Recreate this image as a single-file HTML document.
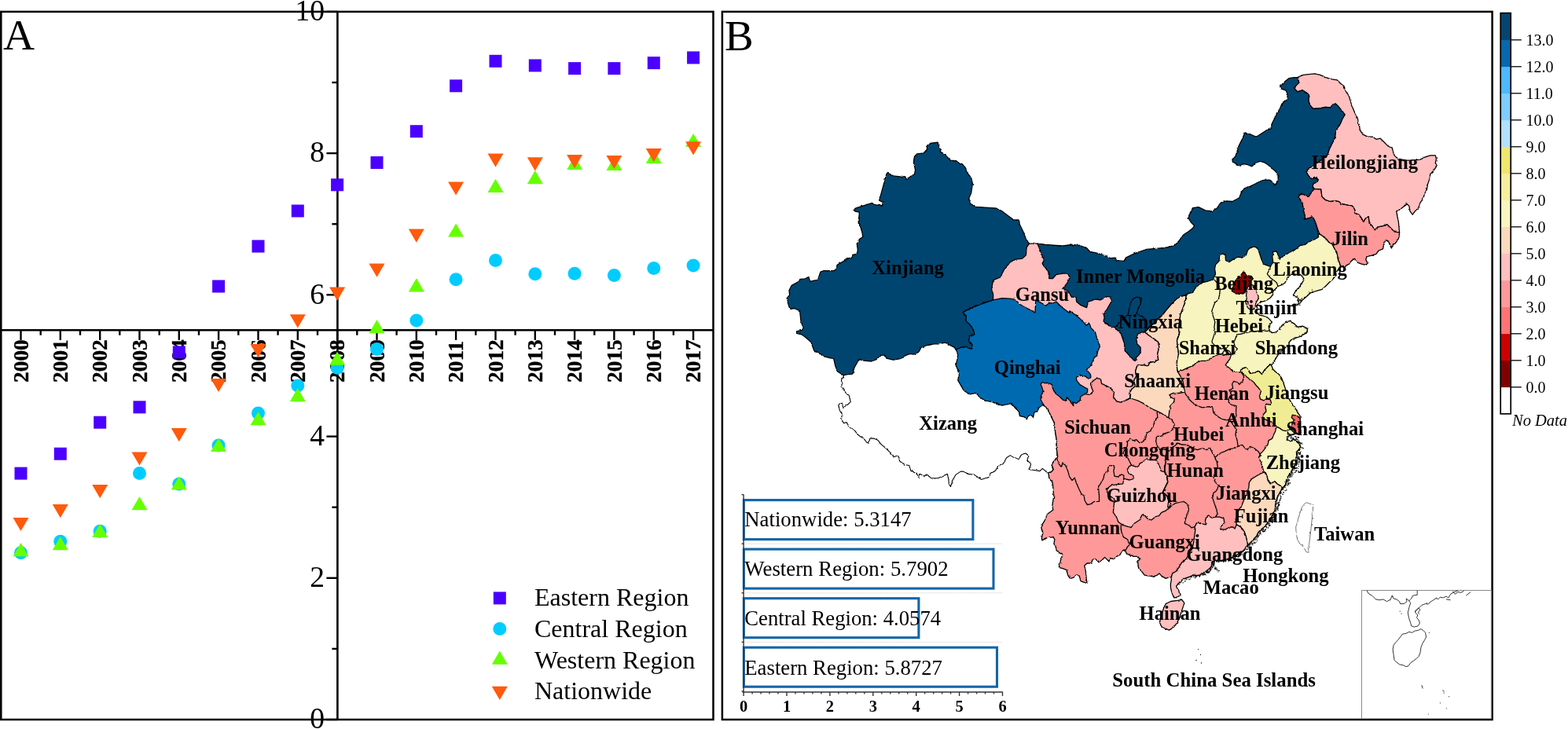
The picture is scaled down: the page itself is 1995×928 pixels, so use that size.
<!DOCTYPE html>
<html lang="en">
<head>
<meta charset="utf-8">
<title>Figure: regional trends and provincial map</title>
<style>
html,body{margin:0;padding:0;background:#fff;}
body{width:1995px;height:928px;overflow:hidden;}
svg{display:block;}
text{fill:#000;}
</style>
</head>
<body>
<svg width="1995" height="928" viewBox="0 0 1995 928">
<rect x="0" y="0" width="1995" height="928" fill="#fff"/>
<g id="panelA">
<rect x="1.3" y="14.9" width="906.2" height="901.1" fill="#fff" stroke="#000" stroke-width="2.5"/>
<line x1="429.4" y1="14.9" x2="429.4" y2="916" stroke="#000" stroke-width="2.6"/>
<line x1="1.3" y1="420.2" x2="907.5" y2="420.2" stroke="#000" stroke-width="2.6"/>
<line x1="415.4" y1="916.0" x2="429.4" y2="916.0" stroke="#000" stroke-width="2.4"/>
<line x1="422.4" y1="825.9" x2="429.4" y2="825.9" stroke="#000" stroke-width="2.4"/>
<line x1="415.4" y1="735.8" x2="429.4" y2="735.8" stroke="#000" stroke-width="2.4"/>
<line x1="422.4" y1="645.7" x2="429.4" y2="645.7" stroke="#000" stroke-width="2.4"/>
<line x1="415.4" y1="555.6" x2="429.4" y2="555.6" stroke="#000" stroke-width="2.4"/>
<line x1="422.4" y1="465.4" x2="429.4" y2="465.4" stroke="#000" stroke-width="2.4"/>
<line x1="415.4" y1="375.3" x2="429.4" y2="375.3" stroke="#000" stroke-width="2.4"/>
<line x1="422.4" y1="285.2" x2="429.4" y2="285.2" stroke="#000" stroke-width="2.4"/>
<line x1="415.4" y1="195.1" x2="429.4" y2="195.1" stroke="#000" stroke-width="2.4"/>
<line x1="422.4" y1="105.0" x2="429.4" y2="105.0" stroke="#000" stroke-width="2.4"/>
<line x1="415.4" y1="14.9" x2="429.4" y2="14.9" stroke="#000" stroke-width="2.4"/>
<text x="413" y="927.2" text-anchor="end" font-size="37.5" font-family='"Liberation Serif", "Times New Roman", serif'>0</text>
<text x="413" y="747.0" text-anchor="end" font-size="37.5" font-family='"Liberation Serif", "Times New Roman", serif'>2</text>
<text x="413" y="566.8" text-anchor="end" font-size="37.5" font-family='"Liberation Serif", "Times New Roman", serif'>4</text>
<text x="413" y="386.5" text-anchor="end" font-size="37.5" font-family='"Liberation Serif", "Times New Roman", serif'>6</text>
<text x="413" y="206.3" text-anchor="end" font-size="37.5" font-family='"Liberation Serif", "Times New Roman", serif'>8</text>
<text x="413" y="26.1" text-anchor="end" font-size="37.5" font-family='"Liberation Serif", "Times New Roman", serif'>10</text>
<line x1="26.5" y1="420.2" x2="26.5" y2="432.9" stroke="#000" stroke-width="2.4"/>
<line x1="51.7" y1="420.2" x2="51.7" y2="426.7" stroke="#000" stroke-width="2.4"/>
<text transform="translate(35.7,487) rotate(-90)" font-size="27.4" font-weight="bold" stroke="#000" stroke-width="0.35" font-family='"Liberation Serif", "Times New Roman", serif'>2000</text>
<line x1="76.8" y1="420.2" x2="76.8" y2="432.9" stroke="#000" stroke-width="2.4"/>
<line x1="102.0" y1="420.2" x2="102.0" y2="426.7" stroke="#000" stroke-width="2.4"/>
<text transform="translate(86.0,487) rotate(-90)" font-size="27.4" font-weight="bold" stroke="#000" stroke-width="0.35" font-family='"Liberation Serif", "Times New Roman", serif'>2001</text>
<line x1="127.2" y1="420.2" x2="127.2" y2="432.9" stroke="#000" stroke-width="2.4"/>
<line x1="152.3" y1="420.2" x2="152.3" y2="426.7" stroke="#000" stroke-width="2.4"/>
<text transform="translate(136.4,487) rotate(-90)" font-size="27.4" font-weight="bold" stroke="#000" stroke-width="0.35" font-family='"Liberation Serif", "Times New Roman", serif'>2002</text>
<line x1="177.5" y1="420.2" x2="177.5" y2="432.9" stroke="#000" stroke-width="2.4"/>
<line x1="202.7" y1="420.2" x2="202.7" y2="426.7" stroke="#000" stroke-width="2.4"/>
<text transform="translate(186.7,487) rotate(-90)" font-size="27.4" font-weight="bold" stroke="#000" stroke-width="0.35" font-family='"Liberation Serif", "Times New Roman", serif'>2003</text>
<line x1="227.8" y1="420.2" x2="227.8" y2="432.9" stroke="#000" stroke-width="2.4"/>
<line x1="253.0" y1="420.2" x2="253.0" y2="426.7" stroke="#000" stroke-width="2.4"/>
<text transform="translate(237.0,487) rotate(-90)" font-size="27.4" font-weight="bold" stroke="#000" stroke-width="0.35" font-family='"Liberation Serif", "Times New Roman", serif'>2004</text>
<line x1="278.1" y1="420.2" x2="278.1" y2="432.9" stroke="#000" stroke-width="2.4"/>
<line x1="303.3" y1="420.2" x2="303.3" y2="426.7" stroke="#000" stroke-width="2.4"/>
<text transform="translate(287.3,487) rotate(-90)" font-size="27.4" font-weight="bold" stroke="#000" stroke-width="0.35" font-family='"Liberation Serif", "Times New Roman", serif'>2005</text>
<line x1="328.5" y1="420.2" x2="328.5" y2="432.9" stroke="#000" stroke-width="2.4"/>
<line x1="353.6" y1="420.2" x2="353.6" y2="426.7" stroke="#000" stroke-width="2.4"/>
<text transform="translate(337.7,487) rotate(-90)" font-size="27.4" font-weight="bold" stroke="#000" stroke-width="0.35" font-family='"Liberation Serif", "Times New Roman", serif'>2006</text>
<line x1="378.8" y1="420.2" x2="378.8" y2="432.9" stroke="#000" stroke-width="2.4"/>
<line x1="404.0" y1="420.2" x2="404.0" y2="426.7" stroke="#000" stroke-width="2.4"/>
<text transform="translate(388.0,487) rotate(-90)" font-size="27.4" font-weight="bold" stroke="#000" stroke-width="0.35" font-family='"Liberation Serif", "Times New Roman", serif'>2007</text>
<line x1="429.1" y1="420.2" x2="429.1" y2="432.9" stroke="#000" stroke-width="2.4"/>
<line x1="454.3" y1="420.2" x2="454.3" y2="426.7" stroke="#000" stroke-width="2.4"/>
<text transform="translate(438.3,487) rotate(-90)" font-size="27.4" font-weight="bold" stroke="#000" stroke-width="0.35" font-family='"Liberation Serif", "Times New Roman", serif'>2008</text>
<line x1="479.5" y1="420.2" x2="479.5" y2="432.9" stroke="#000" stroke-width="2.4"/>
<line x1="504.6" y1="420.2" x2="504.6" y2="426.7" stroke="#000" stroke-width="2.4"/>
<text transform="translate(488.7,487) rotate(-90)" font-size="27.4" font-weight="bold" stroke="#000" stroke-width="0.35" font-family='"Liberation Serif", "Times New Roman", serif'>2009</text>
<line x1="529.8" y1="420.2" x2="529.8" y2="432.9" stroke="#000" stroke-width="2.4"/>
<line x1="555.0" y1="420.2" x2="555.0" y2="426.7" stroke="#000" stroke-width="2.4"/>
<text transform="translate(539.0,487) rotate(-90)" font-size="27.4" font-weight="bold" stroke="#000" stroke-width="0.35" font-family='"Liberation Serif", "Times New Roman", serif'>2010</text>
<line x1="580.1" y1="420.2" x2="580.1" y2="432.9" stroke="#000" stroke-width="2.4"/>
<line x1="605.3" y1="420.2" x2="605.3" y2="426.7" stroke="#000" stroke-width="2.4"/>
<text transform="translate(589.3,487) rotate(-90)" font-size="27.4" font-weight="bold" stroke="#000" stroke-width="0.35" font-family='"Liberation Serif", "Times New Roman", serif'>2011</text>
<line x1="630.5" y1="420.2" x2="630.5" y2="432.9" stroke="#000" stroke-width="2.4"/>
<line x1="655.6" y1="420.2" x2="655.6" y2="426.7" stroke="#000" stroke-width="2.4"/>
<text transform="translate(639.7,487) rotate(-90)" font-size="27.4" font-weight="bold" stroke="#000" stroke-width="0.35" font-family='"Liberation Serif", "Times New Roman", serif'>2012</text>
<line x1="680.8" y1="420.2" x2="680.8" y2="432.9" stroke="#000" stroke-width="2.4"/>
<line x1="706.0" y1="420.2" x2="706.0" y2="426.7" stroke="#000" stroke-width="2.4"/>
<text transform="translate(690.0,487) rotate(-90)" font-size="27.4" font-weight="bold" stroke="#000" stroke-width="0.35" font-family='"Liberation Serif", "Times New Roman", serif'>2013</text>
<line x1="731.1" y1="420.2" x2="731.1" y2="432.9" stroke="#000" stroke-width="2.4"/>
<line x1="756.3" y1="420.2" x2="756.3" y2="426.7" stroke="#000" stroke-width="2.4"/>
<text transform="translate(740.3,487) rotate(-90)" font-size="27.4" font-weight="bold" stroke="#000" stroke-width="0.35" font-family='"Liberation Serif", "Times New Roman", serif'>2014</text>
<line x1="781.4" y1="420.2" x2="781.4" y2="432.9" stroke="#000" stroke-width="2.4"/>
<line x1="806.6" y1="420.2" x2="806.6" y2="426.7" stroke="#000" stroke-width="2.4"/>
<text transform="translate(790.6,487) rotate(-90)" font-size="27.4" font-weight="bold" stroke="#000" stroke-width="0.35" font-family='"Liberation Serif", "Times New Roman", serif'>2015</text>
<line x1="831.8" y1="420.2" x2="831.8" y2="432.9" stroke="#000" stroke-width="2.4"/>
<line x1="856.9" y1="420.2" x2="856.9" y2="426.7" stroke="#000" stroke-width="2.4"/>
<text transform="translate(841.0,487) rotate(-90)" font-size="27.4" font-weight="bold" stroke="#000" stroke-width="0.35" font-family='"Liberation Serif", "Times New Roman", serif'>2016</text>
<line x1="882.1" y1="420.2" x2="882.1" y2="432.9" stroke="#000" stroke-width="2.4"/>
<text transform="translate(891.3,487) rotate(-90)" font-size="27.4" font-weight="bold" stroke="#000" stroke-width="0.35" font-family='"Liberation Serif", "Times New Roman", serif'>2017</text>
<rect x="18.5" y="594.6" width="16" height="16" fill="#4B00FF"/>
<rect x="68.8" y="569.7" width="16" height="16" fill="#4B00FF"/>
<rect x="119.2" y="529.7" width="16" height="16" fill="#4B00FF"/>
<rect x="169.5" y="510.3" width="16" height="16" fill="#4B00FF"/>
<rect x="219.8" y="440.4" width="16" height="16" fill="#4B00FF"/>
<rect x="270.1" y="356.5" width="16" height="16" fill="#4B00FF"/>
<rect x="320.5" y="305.5" width="16" height="16" fill="#4B00FF"/>
<rect x="370.8" y="260.5" width="16" height="16" fill="#4B00FF"/>
<rect x="421.1" y="227.3" width="16" height="16" fill="#4B00FF"/>
<rect x="471.5" y="199.0" width="16" height="16" fill="#4B00FF"/>
<rect x="521.8" y="159.2" width="16" height="16" fill="#4B00FF"/>
<rect x="572.1" y="101.3" width="16" height="16" fill="#4B00FF"/>
<rect x="622.5" y="69.8" width="16" height="16" fill="#4B00FF"/>
<rect x="672.8" y="75.4" width="16" height="16" fill="#4B00FF"/>
<rect x="723.1" y="79.1" width="16" height="16" fill="#4B00FF"/>
<rect x="773.4" y="79.1" width="16" height="16" fill="#4B00FF"/>
<rect x="823.8" y="72.1" width="16" height="16" fill="#4B00FF"/>
<rect x="874.1" y="65.4" width="16" height="16" fill="#4B00FF"/>
<circle cx="26.5" cy="703.8" r="8.5" fill="#00CCFF"/>
<circle cx="76.8" cy="689.2" r="8.5" fill="#00CCFF"/>
<circle cx="127.2" cy="676.3" r="8.5" fill="#00CCFF"/>
<circle cx="177.5" cy="602.6" r="8.5" fill="#00CCFF"/>
<circle cx="227.8" cy="616.2" r="8.5" fill="#00CCFF"/>
<circle cx="278.1" cy="567.1" r="8.5" fill="#00CCFF"/>
<circle cx="328.5" cy="526.0" r="8.5" fill="#00CCFF"/>
<circle cx="378.8" cy="491.1" r="8.5" fill="#00CCFF"/>
<circle cx="429.1" cy="468.3" r="8.5" fill="#00CCFF"/>
<circle cx="479.5" cy="444.6" r="8.5" fill="#00CCFF"/>
<circle cx="529.8" cy="408.1" r="8.5" fill="#00CCFF"/>
<circle cx="580.1" cy="355.7" r="8.5" fill="#00CCFF"/>
<circle cx="630.5" cy="331.6" r="8.5" fill="#00CCFF"/>
<circle cx="680.8" cy="348.8" r="8.5" fill="#00CCFF"/>
<circle cx="731.1" cy="348.3" r="8.5" fill="#00CCFF"/>
<circle cx="781.4" cy="350.6" r="8.5" fill="#00CCFF"/>
<circle cx="831.8" cy="341.4" r="8.5" fill="#00CCFF"/>
<circle cx="882.1" cy="338.1" r="8.5" fill="#00CCFF"/>
<polygon points="16.5,708.2 36.5,708.2 26.5,691.0" fill="#66FF00"/>
<polygon points="66.8,700.3 86.8,700.3 76.8,683.1" fill="#66FF00"/>
<polygon points="117.2,684.0 137.2,684.0 127.2,666.8" fill="#66FF00"/>
<polygon points="167.5,649.2 187.5,649.2 177.5,632.0" fill="#66FF00"/>
<polygon points="217.8,623.5 237.8,623.5 227.8,606.3" fill="#66FF00"/>
<polygon points="268.1,575.0 288.1,575.0 278.1,557.8" fill="#66FF00"/>
<polygon points="318.5,541.2 338.5,541.2 328.5,524.0" fill="#66FF00"/>
<polygon points="368.8,511.2 388.8,511.2 378.8,494.0" fill="#66FF00"/>
<polygon points="419.1,464.8 439.1,464.8 429.1,447.6" fill="#66FF00"/>
<polygon points="469.5,424.3 489.5,424.3 479.5,407.1" fill="#66FF00"/>
<polygon points="519.8,371.4 539.8,371.4 529.8,354.2" fill="#66FF00"/>
<polygon points="570.1,301.6 590.1,301.6 580.1,284.4" fill="#66FF00"/>
<polygon points="620.5,244.9 640.5,244.9 630.5,227.7" fill="#66FF00"/>
<polygon points="670.8,234.3 690.8,234.3 680.8,217.1" fill="#66FF00"/>
<polygon points="721.1,215.9 741.1,215.9 731.1,198.7" fill="#66FF00"/>
<polygon points="771.4,217.1 791.4,217.1 781.4,199.9" fill="#66FF00"/>
<polygon points="821.8,208.0 841.8,208.0 831.8,190.8" fill="#66FF00"/>
<polygon points="872.1,187.1 892.1,187.1 882.1,169.9" fill="#66FF00"/>
<polygon points="16.5,658.9 36.5,658.9 26.5,676.1" fill="#FF5A0D"/>
<polygon points="66.8,642.1 86.8,642.1 76.8,659.3" fill="#FF5A0D"/>
<polygon points="117.2,617.1 137.2,617.1 127.2,634.3" fill="#FF5A0D"/>
<polygon points="167.5,575.4 187.5,575.4 177.5,592.6" fill="#FF5A0D"/>
<polygon points="217.8,545.1 237.8,545.1 227.8,562.3" fill="#FF5A0D"/>
<polygon points="268.1,481.9 288.1,481.9 278.1,499.1" fill="#FF5A0D"/>
<polygon points="318.5,438.0 338.5,438.0 328.5,455.2" fill="#FF5A0D"/>
<polygon points="368.8,400.3 388.8,400.3 378.8,417.5" fill="#FF5A0D"/>
<polygon points="419.1,365.6 439.1,365.6 429.1,382.8" fill="#FF5A0D"/>
<polygon points="469.5,335.5 489.5,335.5 479.5,352.7" fill="#FF5A0D"/>
<polygon points="519.8,291.6 539.8,291.6 529.8,308.8" fill="#FF5A0D"/>
<polygon points="570.1,231.4 590.1,231.4 580.1,248.6" fill="#FF5A0D"/>
<polygon points="620.5,195.6 640.5,195.6 630.5,212.8" fill="#FF5A0D"/>
<polygon points="670.8,200.2 690.8,200.2 680.8,217.4" fill="#FF5A0D"/>
<polygon points="721.1,197.0 741.1,197.0 731.1,214.2" fill="#FF5A0D"/>
<polygon points="771.4,197.9 791.4,197.9 781.4,215.1" fill="#FF5A0D"/>
<polygon points="821.8,189.1 841.8,189.1 831.8,206.3" fill="#FF5A0D"/>
<polygon points="872.1,180.3 892.1,180.3 882.1,197.5" fill="#FF5A0D"/>
<rect x="627.8" y="753.4" width="16" height="16" fill="#4B00FF"/>
<text x="680" y="771.2" font-size="32" font-family='"Liberation Serif", "Times New Roman", serif'>Eastern Region</text>
<circle cx="635.8" cy="800.4" r="8.5" fill="#00CCFF"/>
<text x="680" y="811.0" font-size="32" font-family='"Liberation Serif", "Times New Roman", serif'>Central Region</text>
<polygon points="625.8,845.8 645.8,845.8 635.8,828.6" fill="#66FF00"/>
<text x="680" y="850.5" font-size="32" font-family='"Liberation Serif", "Times New Roman", serif'>Western Region</text>
<polygon points="625.8,873.8 645.8,873.8 635.8,891.0" fill="#FF5A0D"/>
<text x="680" y="890.0" font-size="32" font-family='"Liberation Serif", "Times New Roman", serif'>Nationwide</text>
<text x="4" y="63" font-size="55.5" font-family='"Liberation Serif", "Times New Roman", serif'>A</text>
</g>
<g id="panelB">
<rect x="918.9" y="14.9" width="979.7" height="901.1" fill="#fff" stroke="#000" stroke-width="2.5"/>
<text x="922" y="64.2" font-size="55" font-family='"Liberation Serif", "Times New Roman", serif'>B</text>
<defs><filter id="jag" x="-2%" y="-2%" width="104%" height="104%"><feTurbulence type="fractalNoise" baseFrequency="0.22" numOctaves="2" seed="7" result="n"/><feDisplacementMap in="SourceGraphic" in2="n" scale="2.6" xChannelSelector="R" yChannelSelector="G"/></filter></defs>
<g filter="url(#jag)"><polygon points="1073.7,478.3 1070.5,483.7 1071.1,492.3 1075.9,499.9 1080.2,503.1 1082.3,511.7 1076.9,516.5 1072.6,518.2 1071.1,512.8 1066.8,515.0 1068.3,522.5 1071.1,526.8 1070.5,534.4 1073.7,538.7 1076.9,537.6 1081.2,544.1 1087.7,548.4 1092.0,553.8 1099.6,559.1 1103.9,564.5 1107.1,558.1 1111.4,558.1 1116.8,560.2 1121.1,565.6 1127.6,571.0 1133.0,576.4 1137.3,581.8 1142.7,579.6 1144.8,587.2 1151.3,591.5 1156.7,592.5 1158.8,599.0 1166.4,603.3 1169.6,607.6 1170.7,603.3 1175.0,606.1 1179.3,604.0 1184.7,608.7 1193.3,608.7 1200.9,605.5 1205.2,603.3 1206.9,609.8 1207.3,616.2 1209.5,619.5 1211.6,611.9 1215.9,604.4 1222.4,600.1 1228.9,600.5 1231.0,603.3 1239.7,604.4 1248.3,610.4 1253.7,608.7 1258.0,607.6 1260.1,603.3 1266.6,599.0 1269.8,593.6 1276.3,590.4 1280.6,582.8 1285.4,579.6 1289.7,582.4 1296.2,584.5 1299.4,579.1 1304.8,577.0 1309.1,580.2 1306.9,585.6 1311.9,591.0 1309.1,597.5 1315.6,598.5 1323.1,599.6 1326.3,596.4 1331.7,600.7 1333.9,602.4 1337.8,600.7 1340.3,597.5 1338.2,592.1 1340.3,587.8 1344.7,583.4 1345.7,581.3 1344.2,570.5 1344.2,559.7 1342.5,549.0 1341.4,538.2 1337.1,529.6 1332.8,519.9 1327.0,515.6 1300,480 1230,420 1150,430 1090,460 1073.0,477.6" fill="#FFFFFF" stroke="#000" stroke-width="1.1" stroke-linejoin="round"/>
<polygon points="1327.0,515.6 1318,500 1322,480 1345,470 1400,475 1450,470 1510,440 1560,430 1600,450 1620,500 1630,545 1632,580 1615,640 1592,680 1560,700 1505,725 1490.7,733.1 1488.6,734.2 1483.2,736.4 1477.8,733.1 1475.0,729.9 1472.4,732.1 1467.0,734.2 1461.6,733.1 1456.2,732.1 1453.0,727.8 1448.7,723.4 1447.6,715.9 1449.8,711.6 1447.6,708.4 1442.2,708.4 1437.9,706.2 1433.6,705.1 1431.5,700.8 1430.4,699.7 1427.2,701.9 1425.0,706.2 1420.7,708.4 1417.5,711.6 1412.1,710.5 1411.0,714.8 1407.8,711.6 1405.6,709.4 1402.4,712.7 1398.1,715.9 1393.8,711.6 1390.5,711.6 1388.4,717.0 1383.0,717.0 1379.7,720.2 1381.5,727.8 1382.3,737.5 1383.0,742.4 1378.7,741.1 1375.0,739.6 1373.3,733.1 1369.0,732.1 1365.7,735.3 1361.4,736.4 1358.6,732.1 1357.1,725.6 1352.8,723.9 1347.4,722.4 1348.5,718.1 1349.6,712.7 1351.7,706.2 1348.5,704.1 1344.2,700.8 1343.1,695.4 1340.9,692.2 1342.0,686.8 1339.9,683.6 1332.3,684.7 1325.9,687.9 1325.4,684.7 1326.9,678.2 1324.8,671.7 1326.9,666.3 1330.2,660.9 1332.3,654.5 1335.6,652.3 1339.9,649.1 1338.8,643.7 1340.9,630.8 1340.3,626.6 1339.3,614.7 1335.0,609.3 1333.9,602.4 1337.8,600.7 1340.3,597.5 1338.2,592.1 1340.3,587.8 1344.7,583.4 1345.7,581.3 1344.2,570.5 1344.2,559.7 1342.5,549.0 1341.4,538.2 1337.1,529.6 1332.8,519.9 1327.0,515.6" fill="#FF9999" stroke="#000" stroke-width="1.3" stroke-linejoin="round"/>
<polygon points="1380.4,501.6 1386.5,502.4 1390.8,498.1 1388.6,492.7 1388.6,487.3 1391.9,484.1 1396.2,480.9 1400.5,483.0 1401.6,488.4 1406.9,490.6 1412.3,493.8 1417.7,498.1 1416.6,505.6 1420.9,511.0 1426.3,512.1 1431.7,510.0 1433.9,508.9 1438.2,506.7 1437.1,500.3 1440.3,494.9 1444.7,491.6 1442.5,485.2 1445.7,478.7 1444.7,472.2 1446.8,465.8 1453.3,464.7 1460.8,465.8 1463.0,461.5 1468.4,460.4 1473.8,458.2 1472.7,450.7 1474.8,442.1 1473.8,435.6 1468.4,431.3 1461.9,427.0 1456.5,422.7 1440,400 1420,370 1380,350 1340,330 1320.1,310.2 1309.3,310.2 1290,330 1255,355 1252,390 1290,410 1340,440 1365,490" fill="#FFBFBF" stroke="#000" stroke-width="1.3" stroke-linejoin="round"/>
<polygon points="1433.9,508.9 1438.2,506.7 1437.1,500.3 1440.3,494.9 1444.7,491.6 1442.5,485.2 1445.7,478.7 1444.7,472.2 1446.8,465.8 1453.3,464.7 1460.8,465.8 1463.0,461.5 1468.4,460.4 1473.8,458.2 1472.7,450.7 1474.8,442.1 1473.8,435.6 1468.4,431.3 1461.9,427.0 1456.5,422.7 1456.5,422.7 1461.9,417.3 1470.5,408.7 1479.1,401.1 1481.3,397.9 1485.6,392.5 1492.1,385.0 1497.5,380.0 1502.8,377.0 1509.3,375.7 1509.3,376.3 1508.2,383.9 1505.0,392.5 1501.8,401.1 1500.7,409.7 1499.6,418.4 1500.7,424.8 1497.5,433.4 1498.5,442.1 1499.6,450.7 1497.5,459.3 1497.5,467.9 1498.5,473.3 1501.8,478.7 1505.0,485.2 1506.1,491.6 1507.2,498.1 1506.2,499.4 1499.7,500.5 1492.2,500.5 1487.9,502.6 1490.0,505.9 1494.4,508.0 1493.3,512.3 1489.0,516.6 1487.9,523.1 1486.8,531.7 1483.6,530.6 1478.2,526.3 1471.7,523.1 1466.3,520.9 1460.9,517.7 1454.5,513.4 1448.0,510.2 1441.6,508.0 1438.3,506.9 1432.9,509.1" fill="#FCD9BD" stroke="#000" stroke-width="1.3" stroke-linejoin="round"/>
<polygon points="1509.3,376.3 1508.2,383.9 1505.0,392.5 1501.8,401.1 1500.7,409.7 1499.6,418.4 1500.7,424.8 1497.5,433.4 1498.5,442.1 1499.6,450.7 1497.5,459.3 1497.5,467.9 1498.5,473.3 1505.0,471.2 1511.5,467.9 1517.9,465.8 1522.2,461.5 1528.7,459.3 1535.2,459.3 1540.6,456.1 1545.9,452.8 1552.4,450.7 1561.0,451.8 1567.5,450.7 1566.8,450.6 1564.7,457.1 1561.4,461.4 1559.3,464.7 1563.6,467.9 1569.0,473.3 1574.4,474.4 1578.7,473.3 1580.8,469.0 1585.1,467.9 1588.4,471.1 1590.5,475.4 1597.0,474.4 1601.3,472.2 1605.6,476.5 1608.8,471.1 1612.1,467.9 1615.3,464.7 1617.5,464.7 1619.6,462.5 1622.8,457.1 1626.1,451.7 1629.3,448.5 1634.7,443.1 1640.1,438.8 1640.1,435.6 1643.3,432.3 1648.7,430.2 1656.2,428.0 1658.4,425.9 1662.7,423.7 1663.8,418.3 1657.3,415.1 1650.9,416.2 1646.6,411.9 1640.1,408.6 1635.8,409.7 1631.5,414.0 1628.2,418.3 1623.9,422.6 1618.5,423.7 1615.3,420.5 1614.7,418.4 1614.2,415.1 1616.3,412.4 1618.5,410.3 1616.3,407.6 1613.1,404.4 1607.7,402.2 1602.3,401.1 1599.6,397.9 1598.6,394.7 1599.1,390.3 1601.2,386.6 1604.5,384.4 1606.6,383.9 1609.9,382.8 1613.1,381.2 1616.3,379.0 1618.5,376.3 1619.0,373.1 1620.6,369.9 1622.8,367.7 1626.0,364.5 1631.4,362.3 1634.7,360.2 1636.8,356.4 1639.0,353.2 1641.7,350.5 1645.4,348.9 1649.7,349.4 1655.1,349.9 1657.3,352.6 1659.4,355.3 1657.3,359.1 1655.1,362.3 1653.0,365.6 1650.3,368.3 1648.1,370.9 1647.0,373.1 1645.4,375.3 1646.5,377.4 1649.7,378.0 1651.9,379.6 1650.8,382.8 1652.4,385.5 1649.7,388.2 1645.4,388.7 1654.1,386.0 1656.2,382.8 1659.4,380.1 1663.8,376.3 1667.0,373.1 1671.3,371.5 1676.7,369.9 1682.1,368.3 1686.4,364.5 1689.6,361.2 1692.8,358.0 1695.0,356.4 1699.1,351.3 1701.3,344.8 1705.6,338.8 1704.5,335.1 1702.4,329.7 1701.3,323.3 1698.1,316.8 1694.8,310.3 1690.5,308.2 1688.4,305.0 1683.0,300.6 1678.7,297.4 1640,300 1600,305 1550,315 1540,335" fill="#F7F4BF" stroke="#000" stroke-width="1.3" stroke-linejoin="round"/>
<polygon points="1780.6,295.7 1780.0,301.7 1777.8,307.1 1772.4,311.4 1771.3,315.7 1769.2,311.4 1765.9,307.1 1762.7,306.0 1760.6,311.4 1759.5,316.8 1754.1,319.0 1750.9,323.3 1744.4,325.4 1739.0,326.5 1737.9,330.8 1740.1,335.1 1737.9,337.3 1732.5,336.2 1727.2,334.1 1722.8,329.7 1719.6,331.9 1716.4,336.2 1712.1,338.4 1705.6,338.8 1704.5,335.1 1702.4,329.7 1701.3,323.3 1698.1,316.8 1694.8,310.3 1690.5,308.2 1688.4,305.0 1683.0,300.6 1678.7,297.4 1675.4,288.8 1673.3,282.3 1670.0,275.9 1664.7,278.0 1659.3,279.1 1660.3,274.8 1658.2,267.2 1657.1,258.6 1655.6,255.9 1651.7,250.6 1656.0,246.2 1660.3,248.4 1664.7,250.6 1669.0,244.1 1672.2,240.4 1672.2,240.4 1680.8,240.9 1681.9,250.0 1686.2,254.3 1692.7,256.5 1698.1,255.4 1703.4,256.5 1707.8,259.7 1714.2,260.8 1720.7,261.9 1723.9,267.2 1725.0,271.6 1729.3,273.7 1732.5,278.0 1734.7,282.3 1737.9,276.9 1741.2,275.9 1742.2,282.3 1745.5,287.7 1748.7,293.1 1753.0,288.8 1759.5,287.7 1764.9,285.6 1769.2,289.9 1772.4,293.1 1776.7,295.3" fill="#FF9999" stroke="#000" stroke-width="1.3" stroke-linejoin="round"/>
<polygon points="1650.6,98.6 1658.2,95.4 1666.8,94.3 1673.3,93.9 1679.7,95.4 1686.2,98.6 1694.8,100.8 1701.3,101.9 1705.6,106.2 1709.9,109.4 1712.1,115.9 1716.4,122.3 1718.5,129.9 1720.7,136.3 1723.9,143.9 1727.2,150.3 1729.3,159.0 1730.4,165.4 1733.6,170.8 1740.1,174.1 1746.6,174.1 1750.9,177.3 1756.2,176.2 1760.6,180.5 1765.9,185.9 1771.3,188.1 1772.4,193.4 1774.6,198.8 1778.9,202.1 1789.7,204.2 1798.3,204.2 1806.9,203.1 1813.4,199.9 1819.8,197.8 1826.3,197.8 1827.4,202.1 1826.3,207.5 1828.4,210.7 1824.1,217.2 1819.8,221.5 1818.8,227.9 1816.6,234.4 1815.5,240.9 1812.3,247.3 1810.1,253.8 1806.9,258.1 1804.7,264.6 1800.4,268.9 1797.2,273.2 1794.0,268.9 1792.9,262.4 1789.7,259.2 1785.3,263.5 1781.0,266.7 1776.7,268.9 1777.8,275.3 1779.3,281.8 1780.0,290.0 1780.6,295.7 1776.7,295.3 1772.4,293.1 1769.2,289.9 1764.9,285.6 1759.5,287.7 1753.0,288.8 1748.7,293.1 1745.5,287.7 1742.2,282.3 1741.2,275.9 1737.9,276.9 1734.7,282.3 1732.5,278.0 1729.3,273.7 1725.0,271.6 1723.9,267.2 1720.7,261.9 1714.2,260.8 1707.8,259.7 1703.4,256.5 1698.1,255.4 1692.7,256.5 1686.2,254.3 1681.9,250.0 1680.8,240.9 1672.2,240.4 1670.0,237.6 1671.1,233.3 1675.4,232.2 1677.2,229.0 1674.4,225.8 1669.0,227.9 1664.7,223.6 1662.1,219.3 1663.6,216.1 1669.0,211.8 1675.4,207.5 1681.9,203.1 1687.3,199.9 1689.4,195.6 1691.6,189.1 1694.8,182.7 1698.1,176.2 1699.1,169.7 1701.3,163.3 1705.6,156.8 1707.8,151.4 1711.0,146.0 1707.8,141.7 1703.4,136.3 1699.1,132.0 1695.9,133.1 1692.7,137.0 1686.2,136.3 1679.7,137.8 1671.1,138.5 1666.8,134.2 1664.7,127.7 1665.7,122.3 1663.6,119.1 1657.1,114.8 1650.6,116.9 1646.3,111.6 1652.8,105.1 1650.6,98.6" fill="#FFBFBF" stroke="#000" stroke-width="1.3" stroke-linejoin="round"/>
<polygon points="1617.5,464.7 1615.3,464.7 1612.1,467.9 1608.8,471.1 1605.6,476.5 1601.3,472.2 1597.0,474.4 1590.5,475.4 1588.4,471.1 1585.1,467.9 1580.8,469.0 1578.7,473.3 1583.0,476.5 1586.2,479.7 1590.5,483.0 1594.8,486.2 1598.1,490.5 1601.3,493.8 1604.5,498.1 1602.4,503.4 1603.4,507.8 1607.8,509.9 1612.1,507.8 1616.4,508.8 1617.5,513.1 1615.3,515.3 1611.0,514.2 1609.9,518.5 1611.0,523.9 1607.8,527.2 1606.7,531.5 1611.0,534.7 1617.5,536.9 1620.7,540.1 1623.9,543.3 1623.9,543.3 1627.2,544.4 1631.5,547.6 1635.8,548.7 1637.9,547.6 1642.2,546.6 1646.6,550.9 1650.9,552.6 1655.2,550.9 1653.0,546.6 1650.9,540.1 1654.1,536.9 1654.1,529.3 1650.9,525.0 1647.6,518.5 1643.3,513.1 1640.1,507.8 1637.9,501.3 1634.7,492.7 1632.5,486.2 1630.4,480.8 1627.2,476.5 1622.8,473.3 1619.6,470.0 1617.5,464.7" fill="#F0EC94" stroke="#000" stroke-width="1.3" stroke-linejoin="round"/>
<polygon points="1646.6,550.9 1642.2,546.6 1637.9,547.6 1635.8,548.7 1631.5,547.6 1627.2,544.4 1623.9,543.3 1623.9,543.3 1622.8,548.7 1620.7,553.0 1618.5,558.4 1614.2,560.6 1613.1,565.9 1609.9,570.3 1606.7,574.6 1603.4,577.8 1602.4,583.2 1604.5,589.7 1606.7,595.0 1605.6,592.3 1607.8,599.9 1608.8,600.9 1608.8,600.9 1612.1,606.3 1613.1,611.7 1616.4,616.0 1621.8,612.8 1625.0,616.0 1629.3,618.6 1631.5,621.0 1630.9,621.9 1635.3,617.6 1636.3,613.3 1638.5,606.8 1641.7,602.5 1643.9,598.2 1647.1,592.8 1649.3,588.5 1649.8,586.3 1648.7,583.1 1650.3,579.9 1648.7,576.6 1650.3,574.5 1653.6,571.2 1654.7,568.0 1652.5,564.8 1649.3,561.6 1646.0,559.4 1640.6,561.0 1637.4,559.4 1637.4,556.2 1641.7,554.0 1650.3,551.9 1650.9,552.6" fill="#F7F4BF" stroke="#000" stroke-width="1.3" stroke-linejoin="round"/>
<polygon points="1631.5,621.0 1629.3,618.6 1625.0,616.0 1621.8,612.8 1616.4,616.0 1613.1,611.7 1612.1,606.3 1608.8,600.9 1608.8,600.9 1603.4,603.1 1598.1,606.3 1592.7,609.6 1589.4,613.9 1588.8,621.4 1586.2,629.0 1583.0,635.4 1579.7,644.1 1576.5,648.4 1574.4,654.8 1572.2,661.3 1573.3,667.8 1573.3,667.8 1578.7,671.0 1583.0,676.4 1585.1,682.8 1586.9,689.3 1587.5,694.1 1587.4,694.4 1589.6,692.2 1592.8,689.0 1596.0,685.7 1599.3,681.4 1601.4,677.1 1604.7,673.9 1609.0,670.6 1612.2,666.3 1615.4,662.0 1618.7,656.6 1621.9,651.2 1622.4,646.9 1623.0,641.6 1624.1,636.2 1626.2,630.8 1629.4,625.4 1630.9,621.9" fill="#FCD9BD" stroke="#000" stroke-width="1.3" stroke-linejoin="round"/>
<polygon points="1587.5,694.1 1586.9,689.3 1585.1,682.8 1583.0,676.4 1578.7,671.0 1573.3,667.8 1573.3,667.8 1571.1,673.1 1569.0,671.0 1564.7,671.0 1558.2,674.2 1551.7,673.1 1553.9,669.9 1557.8,665.6 1557.1,660.2 1551.7,658.1 1546.3,658.1 1546.3,658.1 1542.0,659.1 1537.7,657.0 1534.5,659.1 1533.4,663.4 1534.5,667.8 1528.0,666.7 1522.6,665.6 1520.5,669.9 1519.8,670.6 1519.8,670.6 1520.9,673.9 1519.8,682.5 1518.1,693.3 1515.5,701.9 1512.3,708.4 1509.1,711.6 1503.7,715.9 1500.4,721.3 1497.2,726.7 1491.8,729.9 1490.0,735.3 1490.4,737.8 1489.4,743.0 1489.4,748.2 1490.7,753.4 1492.0,757.2 1493.9,760.9 1497.8,760.5 1501.0,757.9 1500.4,754.7 1499.7,751.4 1497.8,748.8 1496.5,746.3 1499.1,743.0 1501.7,740.4 1504.9,737.8 1508.8,735.9 1514.0,734.0 1517.8,732.0 1521.7,732.7 1526.9,732.0 1530.8,730.1 1534.7,727.5 1537.2,724.9 1540.5,722.3 1541.8,718.4 1542.4,714.6 1546.3,713.9 1552.8,713.9 1560.5,712.0 1568.3,709.4 1573.5,706.8 1579.9,702.9 1583.8,699.1 1587.5,694.1" fill="#FFBFBF" stroke="#000" stroke-width="1.3" stroke-linejoin="round"/>
<polygon points="1065.4,337.0 1080.5,328.4 1082.7,329.5 1085.9,324.1 1090.2,323.4 1091.3,317.6 1090.2,310.1 1093.4,307.9 1093.0,304.7 1097.8,301.5 1096.7,295.0 1093.4,284.2 1093.0,275.6 1093.4,270.2 1088.1,269.1 1085.9,267.0 1089.1,264.8 1109.6,258.4 1113.9,261.6 1119.3,260.5 1122.5,262.2 1123.2,257.3 1118.7,255.1 1127.9,221.7 1130.1,220.6 1136.6,223.9 1151.6,225.6 1153.1,228.2 1159.2,224.3 1163.5,221.7 1164.6,216.3 1162.4,206.6 1163.5,199.1 1166.7,195.9 1175.3,194.8 1179.2,190.5 1179.7,185.1 1184.0,182.5 1193.2,181.2 1194.7,187.2 1197.3,190.5 1195.8,192.6 1202.3,196.9 1209.8,204.5 1216.3,204.5 1221.7,208.8 1223.8,208.4 1228.1,213.1 1230.3,219.6 1235.7,226.5 1237.4,233.6 1235.7,245.4 1232.5,253.0 1234.6,259.4 1240.0,262.2 1242.5,263.4 1253.3,264.1 1268.4,265.1 1274.8,268.8 1283.4,275.3 1289.9,280.0 1296.4,280.0 1297.5,286.0 1301.8,294.7 1305.0,303.3 1309.3,310.2 1306.1,315.1 1305.4,324.8 1300.7,329.1 1292.1,330.2 1285.6,333.4 1278.1,342.1 1272.7,352.8 1263.6,356.7 1261.5,367.9 1263.6,374.4 1263.6,381.9 1251.1,386.2 1233.9,392.6 1225.3,397.6 1229.1,402.3 1229.1,408.8 1233.9,413.1 1238.2,418.5 1239.9,425.6 1233.9,428.2 1232.8,433.6 1237.1,439.0 1236.5,444.4 1229.6,442.2 1223.1,442.2 1216.2,445.0 1214.1,442.1 1207.7,438.8 1202.3,436.0 1194.7,437.8 1188.3,437.8 1179.7,439.5 1172.1,442.1 1168.9,448.1 1162.4,451.1 1158.1,450.3 1153.8,451.8 1145.2,456.7 1136.6,458.2 1127.9,456.1 1125.8,451.8 1120.4,452.4 1115.0,457.6 1108.5,460.0 1097.8,458.9 1093.0,457.2 1087.0,467.9 1084.8,476.1 1078.4,476.6 1073.0,477.6 1065.4,472.7 1062.8,465.8 1060.7,456.7 1054.7,455.4 1047.1,453.3 1041.7,448.5 1036.3,447.5 1034.2,442.1 1032.0,435.6 1024.5,429.1 1020.2,425.9 1013.7,424.4 1013.7,421.6 1020.2,420.5 1022.3,417.3 1019.1,409.7 1017.6,395.7 1010.5,392.5 1005.1,393.6 1002.9,387.1 1001.2,379.6 1004.7,375.3 1004.0,369.9 1007.2,363.4 1016.9,358.0 1018.0,355.4 1024.5,354.8 1028.8,352.6 1030.9,358.4 1040.6,355.9 1043.9,346.2 1048.2,344.7 1061.1,344.7 1064.4,341.9" fill="#04456F" stroke="#000" stroke-width="1.3" stroke-linejoin="round"/>
<polygon points="1263.6,381.9 1274.8,379.7 1285.6,380.1 1292.1,381.9 1297.5,387.2 1302.8,390.5 1311.5,394.8 1316.9,398.0 1317.9,381.9 1330.9,389.0 1335.2,385.5 1339.5,386.2 1343.8,384.0 1350.3,390.5 1360.0,398.0 1361.0,395.9 1367.5,400.2 1374.0,405.6 1382.6,414.2 1385.8,410.9 1388.0,417.4 1393.4,422.8 1395.5,430.3 1399.4,441.1 1396.6,447.6 1395.5,453.0 1392.3,455.1 1388.0,464.8 1382.6,471.3 1386.9,475.6 1388.0,479.9 1384.7,482.1 1380.4,478.8 1375.0,477.8 1369.7,479.9 1369.7,484.2 1374.0,489.6 1379.4,492.8 1383.7,495.0 1383.7,499.3 1380.4,501.5 1375.0,504.7 1374.0,510.1 1369.7,513.3 1365.3,512.2 1365.8,516.6 1361.0,510.1 1357.8,505.8 1355.6,510.1 1352.4,509.0 1348.1,504.7 1343.8,501.5 1340.6,497.2 1338.4,489.6 1334.1,487.5 1328.7,487.5 1326.6,486.4 1324.0,489.0 1326.1,493.9 1327.0,498.2 1324.0,504.7 1324.4,510.1 1327.6,514.8 1322.2,518.7 1320.1,523.0 1315.8,525.2 1314.7,530.6 1310.4,528.4 1307.2,530.6 1306.7,533.8 1302.8,530.6 1297.5,529.5 1296.4,524.1 1292.1,519.8 1286.7,513.3 1281.3,514.8 1274.8,516.1 1268.4,513.3 1259.7,511.2 1253.3,510.1 1246.8,505.8 1241.4,500.4 1233.9,501.9 1226.3,497.2 1222.0,489.6 1218.8,484.2 1219.9,477.8 1218.8,471.3 1216.2,464.8 1217.7,458.4 1218.8,451.9 1216.6,445.4 1216.2,445.0 1223.1,442.2 1229.6,442.2 1236.5,444.4 1237.1,439.0 1232.8,433.6 1233.9,428.2 1239.9,425.6 1238.2,418.5 1233.9,413.1 1229.1,408.8 1229.1,402.3 1225.3,397.6 1233.9,392.6 1251.1,386.2" fill="#056AB1" stroke="#000" stroke-width="1.3" stroke-linejoin="round"/>
<polygon points="1320.1,310.2 1330.9,311.5 1343.8,312.5 1352.4,313.0 1363.2,311.5 1374.0,312.5 1382.6,315.8 1386.9,320.5 1395.5,322.2 1404.1,324.8 1412.8,328.7 1419.2,328.1 1420.3,331.3 1430.0,332.4 1432.3,328.2 1443.1,322.8 1458.2,317.5 1471.1,316.4 1481.9,315.3 1488.4,314.2 1494.8,312.1 1499.1,307.8 1502.4,303.4 1505.6,299.1 1512.1,294.8 1517.5,290.5 1519.6,287.3 1515.3,283.0 1512.1,277.6 1514.2,271.1 1517.5,264.7 1525.0,263.6 1533.6,267.9 1542.2,269.0 1548.7,264.7 1553.0,258.2 1559.5,256.0 1568.1,256.5 1576.7,251.7 1578.9,246.3 1583.2,239.9 1589.7,237.7 1596.1,234.5 1602.6,231.2 1608.0,229.1 1615.5,229.1 1619.8,232.3 1622.0,235.6 1626.3,230.2 1625.9,221.6 1622.0,217.2 1617.7,214.0 1613.4,209.7 1608.0,206.5 1602.6,205.4 1597.2,207.5 1592.9,211.9 1587.5,209.7 1582.1,208.6 1576.7,210.8 1572.4,208.6 1568.1,205.4 1568.4,206.7 1567.9,203.0 1571.6,199.6 1574.8,190.5 1575.9,186.2 1580.2,177.6 1583.9,169.0 1589.9,170.7 1598.5,174.4 1605.0,170.0 1611.5,165.7 1617.9,163.6 1617.9,158.2 1621.2,151.7 1624.4,145.3 1628.7,137.7 1630.9,132.3 1637.3,126.9 1638.4,120.5 1636.2,115.1 1629.8,112.9 1628.7,109.7 1634.1,105.4 1634.5,104.0 1639.9,99.7 1646.3,98.6 1650.6,98.6 1650.6,98.6 1652.8,105.1 1646.3,111.6 1650.6,116.9 1657.1,114.8 1663.6,119.1 1665.7,122.3 1664.7,127.7 1666.8,134.2 1671.1,138.5 1679.7,137.8 1686.2,136.3 1692.7,137.0 1695.9,133.1 1699.1,132.0 1703.4,136.3 1707.8,141.7 1711.0,146.0 1707.8,151.4 1705.6,156.8 1701.3,163.3 1699.1,169.7 1698.1,176.2 1694.8,182.7 1691.6,189.1 1689.4,195.6 1687.3,199.9 1681.9,203.1 1675.4,207.5 1669.0,211.8 1663.6,216.1 1662.1,219.3 1664.7,223.6 1669.0,227.9 1674.4,225.8 1677.2,229.0 1675.4,232.2 1671.1,233.3 1670.0,237.6 1672.2,240.4 1669.0,244.1 1664.7,250.6 1660.3,248.4 1656.0,246.2 1651.7,250.6 1655.6,255.9 1657.1,258.6 1658.2,267.2 1660.3,274.8 1659.3,279.1 1664.7,278.0 1670.0,275.9 1673.3,282.3 1675.4,288.8 1677.6,301.7 1672.2,305.0 1664.7,308.2 1660.3,311.4 1653.9,312.5 1650.0,316.4 1641.4,320.7 1634.9,325.0 1628.4,329.3 1626.3,325.0 1624.1,319.6 1619.8,320.7 1618.8,327.2 1619.8,333.6 1616.6,339.0 1615.5,339.0 1612.3,337.9 1606.9,335.8 1604.7,329.3 1602.6,322.8 1600.4,316.4 1596.1,313.8 1590.7,315.3 1587.5,318.5 1585.3,325.0 1580.0,328.2 1575.6,327.2 1570.3,329.3 1563.8,333.6 1559.5,331.5 1559.1,324.6 1555.2,322.8 1551.9,325.0 1550.9,332.5 1546.6,336.9 1545.5,342.2 1546.6,348.7 1543.3,356.2 1542.2,356.2 1535.8,358.4 1529.3,359.5 1525.0,362.7 1520.7,367.0 1517.5,372.4 1512.1,373.5 1507.8,375.6 1509.3,375.7 1502.8,377.0 1497.5,380.0 1492.1,385.0 1485.6,392.5 1481.3,397.9 1479.1,401.1 1470.5,408.7 1461.9,417.3 1456.5,422.7 1456.5,422.7 1453.3,422.7 1447.9,424.8 1445.7,431.3 1446.8,437.8 1451.1,442.1 1451.1,448.5 1449.0,451.8 1445.7,455.0 1444.7,459.3 1441.4,457.2 1437.1,452.8 1431.3,446.4 1430.6,437.8 1428.5,431.3 1426.3,424.8 1422.0,420.5 1417.7,416.2 1416.0,416.4 1410.6,414.3 1404.1,408.9 1405.2,404.6 1404.1,399.2 1408.4,393.8 1414.5,383.0 1412.8,377.6 1408.4,377.6 1399.8,381.9 1393.4,380.9 1384.7,384.1 1382.6,391.6 1375.0,388.4 1369.7,384.1 1369.2,378.7 1363.2,377.6 1358.9,371.2 1352.4,366.9 1357.8,360.4 1361.0,352.8 1358.4,348.1 1352.4,348.1 1343.8,349.6 1339.5,354.6 1334.7,354.6 1335.2,347.5 1326.1,335.6 1328.3,331.3 1323.3,318.4 1320.1,310.2" fill="#04456F" stroke="#000" stroke-width="1.3" stroke-linejoin="round"/>
<polygon points="1408.2,622.2 1413.6,617.9 1420.1,616.9 1428.7,615.8 1429.8,609.3 1437.3,611.0 1442.7,609.3 1441.6,605.0 1436.2,602.8 1434.1,598.5 1436.2,594.2 1439.5,592.1 1444.9,594.2 1448.1,594.2 1450.3,589.9 1454.6,587.8 1458.9,583.4 1463.2,585.6 1470.7,585.6 1475.0,592.1 1477.2,599.6 1481.5,600.7 1484.7,607.2 1485.8,613.6 1482.6,620.1 1479.4,626.6 1484.7,630.9 1486.9,637.3 1489.7,641.6 1487.5,645.9 1483.2,650.2 1477.8,652.3 1474.6,656.6 1470.3,657.7 1464.9,662.0 1459.5,659.9 1455.2,654.5 1453.0,655.6 1449.8,662.0 1443.3,666.3 1439.0,671.7 1432.5,669.6 1427.2,667.8 1422.8,664.2 1420.7,658.8 1416.4,652.3 1417.5,639.4 1420.1,638.4 1414.7,633.0 1409.3,628.7" fill="#FFBFBF" stroke="#000" stroke-width="1.3" stroke-linejoin="round"/>
<polygon points="1582.6,345.1 1585.8,350.5 1592.3,351.6 1594.4,354.8 1591.2,358.0 1590.1,364.5 1593.4,367.7 1590.1,370.9 1584.7,369.9 1581.5,374.2 1577.2,373.1 1572.9,374.2 1568.6,372.0 1567.5,367.7 1570.7,362.3 1571.8,356.9 1576.1,353.7 1579.4,349.4" fill="#8B0000" stroke="#000" stroke-width="1.3" stroke-linejoin="round"/>
<polygon points="1587.8,365.6 1591.6,362.3 1595.3,363.4 1595.9,367.7 1598.6,372.0 1600.7,375.3 1601.2,379.6 1599.6,382.8 1598.0,386.0 1596.9,390.3 1594.8,393.6 1591.6,394.7 1588.3,392.5 1586.2,389.3 1585.1,385.0 1586.2,380.6 1585.6,376.3 1586.2,372.0 1586.7,368.8" fill="#FFBFBF" stroke="#000" stroke-width="1.3" stroke-linejoin="round"/>
<polygon points="1644.4,528.2 1648.7,529.3 1654.1,532.5 1654.1,536.9 1650.9,540.1 1653.0,546.6 1655.2,550.9 1650.9,551.9 1646.6,548.7 1643.3,543.3 1644.4,537.9 1646.6,534.7 1643.3,531.5" fill="#FF6666" stroke="#000" stroke-width="1.3" stroke-linejoin="round"/>
<polygon points="1483.2,768.7 1489.7,765.5 1498.3,764.4 1503.7,763.3 1506.9,767.6 1504.7,774.1 1502.6,780.6 1500.4,787.0 1497.2,793.5 1492.9,798.9 1487.5,802.1 1482.1,800.0 1477.8,797.8 1475.6,792.4 1476.7,785.9 1478.9,779.5 1481.0,773.0" fill="#FFBFBF" stroke="#000" stroke-width="1.3" stroke-linejoin="round"/>
<polygon points="1662.7,639.7 1667.0,641.5 1670.7,643.0 1670.3,650.5 1669.2,661.3 1668.1,672.1 1667.0,682.8 1665.5,693.6 1664.2,703.3 1661.6,702.2 1659.1,696.9 1654.1,692.5 1650.9,687.2 1649.1,678.5 1648.7,671.0 1650.9,663.4 1653.4,654.8 1656.2,646.2 1659.5,641.5" fill="#FFFFFF" stroke="#666" stroke-width="0.9" stroke-linejoin="round"/>
<polyline points="1344.7,583.4 1346.8,589.9 1350.0,594.2 1352.2,589.9 1355.4,592.1 1358.7,599.6 1360.8,607.2 1364.1,611.5 1367.3,608.2 1369.4,614.7 1372.7,622.2 1375.9,628.7 1379.1,630.9 1380.2,637.3 1383.4,642.7 1387.8,641.6 1392.1,638.4 1398.5,638.4 1398.5,630.9 1397.5,620.1 1400.7,614.7 1403.9,609.3 1405.0,603.9 1409.3,599.6 1410.4,593.1 1413.6,592.5 1417.9,594.2 1416.9,599.6 1417.9,606.1 1423.3,607.2 1426.6,603.9 1429.8,605.0 1429.8,609.3" fill="none" stroke="#000" stroke-width="1.25" stroke-linejoin="round"/>
<polyline points="1471.8,523.1 1472.9,530.6 1469.7,536.0 1467.1,542.5 1463.2,549.0 1458.9,551.1 1457.8,557.6 1454.6,561.9 1450.3,564.1 1445.9,559.7 1441.6,560.8 1438.4,558.7 1434.7,561.9 1434.1,568.4 1430.9,572.7 1428.7,577.0 1431.9,580.2 1435.2,583.4 1437.3,587.8 1439.5,592.1" fill="none" stroke="#000" stroke-width="1.25" stroke-linejoin="round"/>
<polyline points="1486.8,531.7 1491.1,535.0 1494.4,540.3 1492.2,546.8 1486.8,550.0 1481.4,552.2 1477.1,555.4 1471.7,555.4 1470.6,561.9 1472.8,568.4 1476.0,572.7 1482.5,571.6 1484.7,575.9" fill="none" stroke="#000" stroke-width="1.25" stroke-linejoin="round"/>
<polyline points="1484.7,575.9 1482.5,581.3 1483.6,587.8 1481.4,594.2 1482.5,600.7" fill="none" stroke="#000" stroke-width="1.25" stroke-linejoin="round"/>
<polyline points="1481.5,600.7 1482.6,592.1 1483.7,583.4" fill="none" stroke="#000" stroke-width="1.25" stroke-linejoin="round"/>
<polyline points="1484.7,575.9 1491.1,570.5 1498.7,564.1 1504.1,566.2 1510.5,566.2 1517.0,570.5 1523.4,572.7 1529.9,570.5 1535.3,572.7 1539.6,570.5 1542.8,577.0 1546.1,582.4" fill="none" stroke="#000" stroke-width="1.25" stroke-linejoin="round"/>
<polyline points="1482.5,600.7 1484.7,607.2 1485.7,613.6 1482.5,620.1 1479.3,626.6 1484.7,630.9 1486.8,637.3 1485.7,645.9" fill="none" stroke="#000" stroke-width="1.25" stroke-linejoin="round"/>
<polyline points="1485.7,645.9 1491.1,643.8 1495.4,640.6 1500.8,639.5 1506.2,638.4 1510.5,641.6 1512.7,648.1 1510.5,654.6 1508.4,661.0 1507.3,666.4 1512.7,668.6 1515.9,671.8 1520.2,670.7" fill="none" stroke="#000" stroke-width="1.25" stroke-linejoin="round"/>
<polyline points="1546.1,582.4 1548.2,587.8 1549.3,594.2 1546.1,600.7 1543.9,608.2 1546.1,613.6 1550.4,617.9 1548.2,624.4 1543.9,627.6 1542.8,634.1 1545.0,640.6 1547.2,647.0 1549.3,654.6 1546.3,658.0" fill="none" stroke="#000" stroke-width="1.25" stroke-linejoin="round"/>
<polyline points="1575.2,568.4 1570.9,570.5 1564.4,571.6 1557.9,574.8 1551.5,577.0 1546.1,582.4" fill="none" stroke="#000" stroke-width="1.25" stroke-linejoin="round"/>
<polyline points="1575.2,568.4 1580.6,566.2 1583.8,570.5 1588.1,572.7 1590.3,568.4 1595.6,570.5 1601.0,574.8 1603.2,578.1 1602.1,583.4" fill="none" stroke="#000" stroke-width="1.25" stroke-linejoin="round"/>
<polyline points="1564.4,533.9 1568.7,540.3 1573.0,546.8 1571.9,553.3 1574.1,560.8 1575.2,568.4" fill="none" stroke="#000" stroke-width="1.25" stroke-linejoin="round"/>
<polyline points="1507.1,498.1 1508.4,501.6 1512.7,508.0 1517.0,512.3 1523.4,516.6 1529.9,518.8 1537.5,517.7 1542.8,518.8 1543.9,525.3 1548.2,529.6 1553.6,532.8 1560.1,535.0 1564.4,533.9" fill="none" stroke="#000" stroke-width="1.25" stroke-linejoin="round"/>
<polyline points="1564.4,533.9 1569.8,533.9 1573.0,529.6 1572.6,523.1 1573.0,516.6 1567.6,515.6 1563.3,512.3 1563.3,506.9 1566.6,502.6 1564.4,497.2 1568.7,494.0 1567.6,488.6 1569.8,485.4 1574.1,486.5 1576.2,489.7 1580.6,486.5 1582.7,480.0 1581.9,477.6 1578.7,473.3" fill="none" stroke="#000" stroke-width="1.25" stroke-linejoin="round"/>
<polyline points="1431.5,700.8 1434.7,696.5 1436.9,693.3 1434.7,686.8 1429.3,683.6 1427.2,678.2 1426.1,671.7 1427.2,667.8" fill="none" stroke="#000" stroke-width="1.25" stroke-linejoin="round"/>
<polyline points="1544.9,355.9 1550.3,362.3 1552.4,368.8 1551.3,376.3 1550.3,381.7 1545.9,385.0 1543.8,390.3 1541.6,396.8 1543.8,403.3 1545.9,409.7 1544.9,416.2 1545.9,422.7 1543.8,429.1 1541.6,435.6 1545.9,439.9 1550.3,442.1 1554.6,444.2 1563.2,446.4 1567.5,450.7" fill="none" stroke="#000" stroke-width="1.25" stroke-linejoin="round"/>
<polyline points="1615.3,420.5 1612.1,421.6 1605.6,420.5 1599.1,421.6 1592.7,421.6 1586.2,423.7 1579.7,424.8 1574.4,425.9 1572.2,430.2 1570.0,435.6 1571.1,440.9 1574.4,444.2 1571.1,448.5 1567.9,451.7" fill="none" stroke="#000" stroke-width="1.25" stroke-linejoin="round"/>
<polyline points="1616.6,339.0 1614.4,344.4 1612.3,348.7 1615.5,353.0 1619.8,356.2 1624.1,359.5 1626.3,364.9" fill="none" stroke="#000" stroke-width="1.25" stroke-linejoin="round"/>
<polyline points="1446.8,377.8 1441.4,380.6 1438.2,386.0 1436.5,394.7 1435.0,401.1 1429.6,405.4 1423.1,411.9 1419.9,416.2" fill="none" stroke="#000" stroke-width="1.25" stroke-linejoin="round"/>
<polyline points="1446.8,377.8 1451.1,380.6 1451.6,386.0 1448.5,392.5 1445.7,399.0 1451.1,402.2 1456.5,405.4 1458.7,414.1 1456.5,422.7" fill="none" stroke="#000" stroke-width="1.25" stroke-linejoin="round"/>
<path d="M1642.6 559.1l0.6 -0.5l0.6 0.6l-0.6 0.5zM1643.7 560.1l0.4 -0.3l0.4 0.3l-0.3 0.3zM1644.5 559.2l0.5 -0.4l0.5 0.4l-0.4 0.4zM1644.8 557.9l0.7 -0.6l0.7 0.7l-0.7 0.6zM1642.0 557.6l0.4 -0.3l0.4 0.4l-0.4 0.3zM1642.1 555.6l0.6 -0.5l0.6 0.5l-0.5 0.5zM1643.4 556.9l0.4 -0.3l0.4 0.3l-0.3 0.3zM1643.5 557.5l0.5 -0.4l0.5 0.4l-0.4 0.4zM1638.9 556.6l0.6 -0.5l0.6 0.5l-0.5 0.5zM1642.5 555.3l0.7 -0.5l0.7 0.6l-0.6 0.5zM1644.5 558.4l0.7 -0.6l0.7 0.6l-0.6 0.6zM1640.8 555.3l0.7 -0.6l0.7 0.7l-0.7 0.6zM1640.7 560.8l0.4 -0.4l0.4 0.4l-0.4 0.4zM1644.8 558.1l0.6 -0.5l0.6 0.6l-0.6 0.5zM1647.8 559.6l0.5 -0.4l0.5 0.5l-0.5 0.4zM1648.5 558.7l0.8 -0.6l0.8 0.7l-0.7 0.6zM1650.4 556.6l0.7 -0.6l0.7 0.7l-0.7 0.6zM1650.5 559.1l0.4 -0.3l0.4 0.4l-0.4 0.3zM1651.1 556.7l0.8 -0.6l0.8 0.7l-0.7 0.6zM1649.3 557.9l0.4 -0.4l0.4 0.4l-0.4 0.4zM1649.5 559.3l0.5 -0.4l0.5 0.4l-0.4 0.4zM1647.9 555.8l0.8 -0.6l0.8 0.7l-0.7 0.6zM1648.0 556.2l0.5 -0.4l0.5 0.5l-0.5 0.4zM1646.2 559.2l0.7 -0.6l0.7 0.6l-0.6 0.6zM1650.9 559.9l0.4 -0.3l0.4 0.3l-0.3 0.3zM1651.4 563.3l0.7 -0.6l0.7 0.7l-0.7 0.6zM1652.9 563.4l0.8 -0.6l0.8 0.7l-0.7 0.6zM1649.6 562.6l0.6 -0.5l0.6 0.6l-0.6 0.5zM1649.1 561.5l0.5 -0.4l0.5 0.5l-0.5 0.4zM1651.0 563.5l0.4 -0.3l0.4 0.3l-0.3 0.3zM1651.8 563.8l0.8 -0.6l0.8 0.7l-0.7 0.6zM1652.4 563.7l0.6 -0.4l0.6 0.5l-0.5 0.4zM1652.3 561.3l0.6 -0.5l0.6 0.6l-0.6 0.5zM1652.2 561.5l0.8 -0.6l0.8 0.7l-0.7 0.6zM1651.2 562.2l0.7 -0.5l0.7 0.6l-0.6 0.5zM1649.8 561.9l0.8 -0.6l0.8 0.7l-0.7 0.6zM1653.0 566.7l0.5 -0.4l0.5 0.5l-0.5 0.4zM1653.0 566.8l0.6 -0.5l0.6 0.6l-0.6 0.5zM1653.2 566.9l0.6 -0.5l0.6 0.6l-0.6 0.5zM1655.5 564.6l0.5 -0.4l0.5 0.5l-0.5 0.4zM1656.6 565.1l0.4 -0.3l0.4 0.3l-0.3 0.3zM1654.3 563.3l0.8 -0.6l0.8 0.7l-0.7 0.6zM1653.7 564.7l0.6 -0.5l0.6 0.6l-0.6 0.5zM1653.5 565.3l0.5 -0.4l0.5 0.4l-0.4 0.4zM1654.8 564.6l0.5 -0.4l0.5 0.4l-0.4 0.4zM1656.1 563.9l0.4 -0.3l0.4 0.3l-0.3 0.3zM1654.1 570.6l0.5 -0.4l0.5 0.4l-0.4 0.4zM1653.8 570.7l0.4 -0.3l0.4 0.4l-0.4 0.3zM1656.8 570.4l0.4 -0.3l0.4 0.4l-0.4 0.3zM1654.4 569.3l0.7 -0.6l0.7 0.7l-0.7 0.6zM1658.0 570.9l0.4 -0.3l0.4 0.4l-0.4 0.3zM1656.3 570.0l0.7 -0.6l0.7 0.7l-0.7 0.6zM1654.2 569.6l0.4 -0.3l0.4 0.4l-0.4 0.3zM1653.6 569.8l0.7 -0.6l0.7 0.6l-0.6 0.6zM1653.5 570.8l0.5 -0.4l0.5 0.4l-0.4 0.4zM1653.9 576.2l0.5 -0.4l0.5 0.5l-0.5 0.4zM1652.9 572.1l0.7 -0.6l0.7 0.6l-0.6 0.6zM1652.8 572.7l0.5 -0.4l0.5 0.5l-0.5 0.4zM1652.3 573.5l0.8 -0.6l0.8 0.7l-0.7 0.6zM1652.2 571.6l0.8 -0.6l0.8 0.7l-0.7 0.6zM1654.2 578.1l0.5 -0.4l0.5 0.5l-0.5 0.4zM1653.6 578.0l0.4 -0.4l0.4 0.4l-0.4 0.4zM1653.6 576.7l0.6 -0.5l0.6 0.6l-0.6 0.5zM1651.8 573.4l0.5 -0.4l0.5 0.5l-0.5 0.4zM1652.2 571.9l0.6 -0.5l0.6 0.6l-0.6 0.5zM1655.2 575.0l0.4 -0.3l0.4 0.3l-0.3 0.3zM1652.1 576.4l0.8 -0.6l0.8 0.7l-0.7 0.6zM1650.3 577.8l0.4 -0.3l0.4 0.3l-0.3 0.3zM1648.8 576.2l0.5 -0.4l0.5 0.4l-0.4 0.4zM1650.3 577.1l0.5 -0.4l0.5 0.5l-0.5 0.4zM1650.3 578.0l0.5 -0.4l0.5 0.5l-0.5 0.4zM1652.9 577.8l0.6 -0.5l0.6 0.5l-0.5 0.5zM1649.4 576.7l0.4 -0.4l0.4 0.4l-0.4 0.4zM1652.3 578.1l0.4 -0.3l0.4 0.4l-0.4 0.3zM1653.1 577.9l0.7 -0.6l0.7 0.6l-0.6 0.6zM1650.4 575.5l0.7 -0.6l0.7 0.7l-0.7 0.6zM1648.8 576.5l0.5 -0.4l0.5 0.4l-0.4 0.4zM1650.2 577.8l0.6 -0.5l0.6 0.5l-0.5 0.5zM1649.4 579.2l0.4 -0.3l0.4 0.3l-0.3 0.3zM1648.6 577.0l0.4 -0.3l0.4 0.3l-0.3 0.3zM1653.9 577.9l0.4 -0.3l0.4 0.3l-0.3 0.3zM1649.7 577.9l0.5 -0.4l0.5 0.4l-0.4 0.4zM1651.2 576.5l0.6 -0.5l0.6 0.6l-0.6 0.5zM1649.0 577.7l0.5 -0.4l0.5 0.4l-0.4 0.4zM1651.9 583.2l0.5 -0.4l0.5 0.5l-0.5 0.4zM1649.8 580.2l0.5 -0.4l0.5 0.5l-0.5 0.4zM1652.3 583.6l0.5 -0.4l0.5 0.5l-0.5 0.4zM1650.8 583.6l0.5 -0.4l0.5 0.5l-0.5 0.4zM1650.6 581.9l0.7 -0.5l0.7 0.6l-0.6 0.5zM1651.9 582.7l0.6 -0.4l0.6 0.5l-0.5 0.4zM1651.1 581.6l0.7 -0.5l0.7 0.6l-0.6 0.5zM1650.8 580.7l0.5 -0.4l0.5 0.5l-0.5 0.4zM1653.0 585.1l0.5 -0.4l0.5 0.5l-0.5 0.4zM1649.5 585.5l0.6 -0.4l0.6 0.5l-0.5 0.4zM1652.1 582.2l0.6 -0.5l0.6 0.6l-0.6 0.5zM1652.8 584.7l0.7 -0.5l0.7 0.6l-0.6 0.5zM1651.2 584.7l0.4 -0.3l0.4 0.4l-0.4 0.3zM1648.8 585.0l0.4 -0.3l0.4 0.4l-0.4 0.3zM1649.0 585.6l0.4 -0.3l0.4 0.4l-0.4 0.3zM1652.8 581.9l0.4 -0.3l0.4 0.4l-0.4 0.3zM1652.5 581.8l0.4 -0.3l0.4 0.4l-0.4 0.3zM1651.7 584.8l0.7 -0.6l0.7 0.7l-0.7 0.6zM1653.1 588.5l0.4 -0.3l0.4 0.3l-0.3 0.3zM1650.6 588.4l0.7 -0.5l0.7 0.6l-0.6 0.5zM1652.5 587.3l0.8 -0.6l0.8 0.7l-0.7 0.6zM1650.0 586.6l0.6 -0.5l0.6 0.5l-0.5 0.5zM1649.4 588.2l0.4 -0.3l0.4 0.4l-0.4 0.3zM1651.5 587.4l0.7 -0.6l0.7 0.6l-0.6 0.6zM1649.0 590.6l0.5 -0.4l0.5 0.5l-0.5 0.4zM1647.7 590.3l0.6 -0.5l0.6 0.5l-0.5 0.5zM1647.6 593.3l0.7 -0.5l0.7 0.6l-0.6 0.5zM1651.1 590.6l0.7 -0.6l0.7 0.6l-0.6 0.6zM1648.9 592.3l0.6 -0.5l0.6 0.5l-0.5 0.5zM1651.8 593.5l0.4 -0.3l0.4 0.4l-0.4 0.3zM1651.5 590.5l0.8 -0.6l0.8 0.7l-0.7 0.6zM1648.8 591.4l0.7 -0.5l0.7 0.6l-0.6 0.5zM1648.9 589.5l0.4 -0.4l0.4 0.4l-0.4 0.4zM1648.2 591.4l0.5 -0.4l0.5 0.4l-0.4 0.4zM1652.1 593.9l0.5 -0.4l0.5 0.4l-0.4 0.4zM1648.2 592.1l0.7 -0.6l0.7 0.7l-0.7 0.6zM1646.2 594.4l0.4 -0.3l0.4 0.3l-0.3 0.3zM1646.1 596.0l0.4 -0.3l0.4 0.4l-0.4 0.3zM1645.9 595.2l0.7 -0.6l0.7 0.6l-0.6 0.6zM1651.0 596.5l0.6 -0.5l0.6 0.5l-0.5 0.5zM1645.8 596.9l0.7 -0.6l0.7 0.7l-0.7 0.6zM1645.8 598.3l0.6 -0.5l0.6 0.5l-0.5 0.5zM1648.1 599.0l0.5 -0.4l0.5 0.5l-0.5 0.4zM1648.9 599.5l0.6 -0.4l0.6 0.5l-0.5 0.4zM1646.0 594.2l0.7 -0.5l0.7 0.6l-0.6 0.5zM1648.9 599.2l0.7 -0.6l0.7 0.7l-0.7 0.6zM1646.1 594.2l0.5 -0.4l0.5 0.4l-0.4 0.4zM1648.6 595.5l0.7 -0.6l0.7 0.7l-0.7 0.6zM1643.9 597.9l0.7 -0.6l0.7 0.7l-0.7 0.6zM1646.6 595.2l0.7 -0.5l0.7 0.6l-0.6 0.5zM1646.1 593.2l0.7 -0.6l0.7 0.7l-0.7 0.6zM1646.4 594.9l0.6 -0.5l0.6 0.6l-0.6 0.5zM1644.1 598.6l0.5 -0.4l0.5 0.5l-0.5 0.4zM1642.5 600.4l0.6 -0.5l0.6 0.6l-0.6 0.5zM1642.2 602.8l0.6 -0.5l0.6 0.5l-0.5 0.5zM1643.5 599.0l0.6 -0.5l0.6 0.6l-0.6 0.5zM1647.1 600.9l0.8 -0.6l0.8 0.7l-0.7 0.6zM1647.9 601.0l0.5 -0.4l0.5 0.5l-0.5 0.4zM1645.0 603.2l0.5 -0.4l0.5 0.4l-0.4 0.4zM1644.2 602.4l0.7 -0.6l0.7 0.6l-0.6 0.6zM1645.8 601.0l0.8 -0.6l0.8 0.7l-0.7 0.6zM1643.8 602.0l0.4 -0.3l0.4 0.4l-0.4 0.3zM1643.0 600.8l0.7 -0.5l0.7 0.6l-0.6 0.5zM1644.0 602.1l0.4 -0.3l0.4 0.4l-0.4 0.3zM1644.4 602.2l0.4 -0.3l0.4 0.4l-0.4 0.3zM1638.9 605.3l0.8 -0.6l0.8 0.7l-0.7 0.6zM1641.3 603.6l0.7 -0.5l0.7 0.6l-0.6 0.5zM1640.9 606.4l0.6 -0.5l0.6 0.6l-0.6 0.5zM1640.4 604.9l0.4 -0.3l0.4 0.4l-0.4 0.3zM1643.5 604.8l0.7 -0.6l0.7 0.6l-0.6 0.6zM1642.3 606.9l0.5 -0.4l0.5 0.5l-0.5 0.4zM1641.0 604.3l0.7 -0.6l0.7 0.7l-0.7 0.6zM1642.6 603.8l0.5 -0.4l0.5 0.4l-0.4 0.4zM1639.5 606.4l0.5 -0.4l0.5 0.4l-0.4 0.4zM1641.4 605.5l0.7 -0.6l0.7 0.6l-0.6 0.6zM1643.7 606.7l0.4 -0.3l0.4 0.4l-0.4 0.3zM1640.4 603.6l0.4 -0.3l0.4 0.4l-0.4 0.3zM1641.5 607.9l0.4 -0.3l0.4 0.4l-0.4 0.3zM1641.5 604.1l0.7 -0.5l0.7 0.6l-0.6 0.5zM1638.7 612.4l0.4 -0.3l0.4 0.4l-0.4 0.3zM1637.3 609.5l0.6 -0.5l0.6 0.5l-0.5 0.5zM1637.1 610.6l0.5 -0.4l0.5 0.4l-0.4 0.4zM1635.9 611.8l0.7 -0.6l0.7 0.6l-0.6 0.6zM1641.1 614.3l0.5 -0.4l0.5 0.5l-0.5 0.4zM1638.9 611.1l0.6 -0.5l0.6 0.6l-0.6 0.5zM1638.8 614.1l0.5 -0.4l0.5 0.4l-0.4 0.4zM1637.6 612.9l0.6 -0.5l0.6 0.6l-0.6 0.5zM1636.0 611.5l0.7 -0.6l0.7 0.6l-0.6 0.6zM1638.1 611.7l0.6 -0.5l0.6 0.5l-0.5 0.5zM1637.1 609.9l0.6 -0.5l0.6 0.5l-0.5 0.5zM1639.5 607.6l0.6 -0.5l0.6 0.6l-0.6 0.5zM1638.9 610.4l0.8 -0.6l0.8 0.7l-0.7 0.6zM1635.9 612.6l0.7 -0.6l0.7 0.6l-0.6 0.6zM1636.5 610.8l0.5 -0.4l0.5 0.5l-0.5 0.4zM1637.3 608.3l0.6 -0.5l0.6 0.5l-0.5 0.5zM1636.5 613.1l0.7 -0.6l0.7 0.7l-0.7 0.6zM1636.3 611.3l0.7 -0.6l0.7 0.7l-0.7 0.6zM1637.9 618.0l0.7 -0.5l0.7 0.6l-0.6 0.5zM1639.2 615.7l0.8 -0.6l0.8 0.7l-0.7 0.6zM1636.1 617.3l0.7 -0.6l0.7 0.6l-0.6 0.6zM1635.4 615.4l0.4 -0.3l0.4 0.3l-0.3 0.3zM1636.1 613.7l0.4 -0.3l0.4 0.4l-0.4 0.3zM1638.3 616.2l0.6 -0.5l0.6 0.5l-0.5 0.5zM1638.1 615.8l0.5 -0.4l0.5 0.4l-0.4 0.4zM1638.9 616.1l0.5 -0.4l0.5 0.5l-0.5 0.4zM1640.2 615.2l0.7 -0.5l0.7 0.6l-0.6 0.5zM1636.4 615.1l0.6 -0.5l0.6 0.5l-0.5 0.5zM1635.7 615.9l0.4 -0.3l0.4 0.3l-0.3 0.3zM1639.5 615.1l0.4 -0.3l0.4 0.4l-0.4 0.3zM1634.2 618.7l0.4 -0.3l0.4 0.4l-0.4 0.3zM1633.3 619.5l0.4 -0.3l0.4 0.3l-0.3 0.3zM1634.4 618.2l0.6 -0.5l0.6 0.5l-0.5 0.5zM1634.4 617.7l0.6 -0.4l0.6 0.5l-0.5 0.4zM1635.4 621.7l0.4 -0.3l0.4 0.3l-0.3 0.3zM1634.0 620.2l0.4 -0.3l0.4 0.3l-0.3 0.3zM1630.9 622.0l0.4 -0.3l0.4 0.4l-0.4 0.3zM1632.7 619.8l0.6 -0.5l0.6 0.6l-0.6 0.5zM1633.4 619.1l0.4 -0.3l0.4 0.3l-0.3 0.3zM1631.8 621.1l0.7 -0.6l0.7 0.6l-0.6 0.6zM1636.4 623.3l0.5 -0.4l0.5 0.4l-0.4 0.4zM1633.9 619.1l0.7 -0.6l0.7 0.6l-0.6 0.6zM1632.8 621.0l0.4 -0.3l0.4 0.4l-0.4 0.3zM1635.5 624.5l0.6 -0.5l0.6 0.6l-0.6 0.5zM1634.8 617.5l0.4 -0.3l0.4 0.4l-0.4 0.3zM1634.1 618.2l0.4 -0.3l0.4 0.3l-0.3 0.3z" fill="#111" stroke="#000" stroke-width="0.5"/>
<path d="M1631.2 622.6l0.4 -0.3l0.4 0.4l-0.4 0.3zM1630.9 622.5l0.8 -0.6l0.8 0.7l-0.7 0.6zM1632.1 625.9l0.4 -0.4l0.4 0.4l-0.4 0.4zM1630.1 624.0l0.4 -0.3l0.4 0.4l-0.4 0.3zM1630.2 622.4l0.8 -0.6l0.8 0.7l-0.7 0.6zM1632.0 626.1l0.7 -0.6l0.7 0.6l-0.6 0.6zM1630.5 622.8l0.6 -0.5l0.6 0.6l-0.6 0.5zM1632.5 625.9l0.7 -0.6l0.7 0.7l-0.7 0.6zM1632.0 623.0l0.7 -0.5l0.7 0.6l-0.6 0.5zM1629.6 627.0l0.4 -0.3l0.4 0.4l-0.4 0.3zM1629.1 632.4l0.6 -0.5l0.6 0.5l-0.5 0.5zM1631.4 629.1l0.6 -0.5l0.6 0.5l-0.5 0.5zM1629.1 632.0l0.6 -0.5l0.6 0.5l-0.5 0.5zM1629.3 628.7l0.5 -0.4l0.5 0.5l-0.5 0.4zM1628.7 626.6l0.7 -0.6l0.7 0.6l-0.6 0.6zM1628.5 625.6l0.6 -0.5l0.6 0.6l-0.6 0.5zM1629.4 627.8l0.6 -0.4l0.6 0.5l-0.5 0.4zM1632.0 629.7l0.4 -0.4l0.4 0.4l-0.4 0.4zM1627.6 627.7l0.6 -0.5l0.6 0.6l-0.6 0.5zM1628.5 627.3l0.7 -0.5l0.7 0.6l-0.6 0.5zM1629.2 628.0l0.8 -0.6l0.8 0.7l-0.7 0.6zM1628.5 625.9l0.5 -0.4l0.5 0.4l-0.4 0.4zM1628.3 630.6l0.5 -0.4l0.5 0.4l-0.4 0.4zM1627.9 627.3l0.6 -0.4l0.6 0.5l-0.5 0.4zM1627.7 636.0l0.8 -0.6l0.8 0.7l-0.7 0.6zM1628.5 636.4l0.4 -0.3l0.4 0.3l-0.3 0.3zM1629.1 634.0l0.7 -0.6l0.7 0.6l-0.6 0.6zM1628.8 634.6l0.6 -0.5l0.6 0.6l-0.6 0.5zM1624.5 635.4l0.4 -0.3l0.4 0.4l-0.4 0.3zM1624.8 633.2l0.5 -0.4l0.5 0.5l-0.5 0.4zM1624.5 636.2l0.4 -0.3l0.4 0.3l-0.3 0.3zM1625.5 631.1l0.7 -0.6l0.7 0.6l-0.6 0.6zM1625.5 632.9l0.4 -0.3l0.4 0.4l-0.4 0.3zM1624.7 636.5l0.4 -0.4l0.4 0.4l-0.4 0.4zM1625.5 631.1l0.4 -0.3l0.4 0.4l-0.4 0.3zM1624.5 634.5l0.4 -0.3l0.4 0.3l-0.3 0.3zM1624.7 633.6l0.8 -0.6l0.8 0.7l-0.7 0.6zM1626.1 639.7l0.5 -0.4l0.5 0.5l-0.5 0.4zM1623.9 641.8l0.5 -0.4l0.5 0.4l-0.4 0.4zM1623.0 638.4l0.5 -0.4l0.5 0.5l-0.5 0.4zM1627.0 638.3l0.7 -0.6l0.7 0.7l-0.7 0.6zM1622.9 638.9l0.5 -0.4l0.5 0.4l-0.4 0.4zM1623.6 637.6l0.5 -0.4l0.5 0.4l-0.4 0.4zM1622.8 640.9l0.4 -0.3l0.4 0.3l-0.3 0.3zM1624.1 641.6l0.8 -0.6l0.8 0.7l-0.7 0.6zM1627.0 639.2l0.6 -0.5l0.6 0.6l-0.6 0.5zM1625.5 641.1l0.6 -0.5l0.6 0.5l-0.5 0.5zM1623.5 636.7l0.7 -0.6l0.7 0.7l-0.7 0.6zM1626.8 641.9l0.5 -0.4l0.5 0.5l-0.5 0.4zM1626.0 640.4l0.6 -0.5l0.6 0.6l-0.6 0.5zM1624.4 644.7l0.7 -0.5l0.7 0.6l-0.6 0.5zM1626.2 643.5l0.8 -0.6l0.8 0.7l-0.7 0.6zM1626.7 642.5l0.8 -0.6l0.8 0.7l-0.7 0.6zM1621.7 645.1l0.8 -0.6l0.8 0.7l-0.7 0.6zM1626.8 642.8l0.7 -0.5l0.7 0.6l-0.6 0.5zM1622.4 641.9l0.6 -0.5l0.6 0.6l-0.6 0.5zM1624.8 644.9l0.8 -0.6l0.8 0.7l-0.7 0.6zM1621.9 642.7l0.8 -0.6l0.8 0.7l-0.7 0.6zM1626.4 642.1l0.4 -0.3l0.4 0.4l-0.4 0.3zM1624.9 646.3l0.7 -0.6l0.7 0.7l-0.7 0.6zM1626.1 645.0l0.4 -0.4l0.4 0.4l-0.4 0.4zM1622.5 645.2l0.8 -0.6l0.8 0.7l-0.7 0.6zM1623.3 645.8l0.6 -0.5l0.6 0.5l-0.5 0.5zM1623.8 647.3l0.6 -0.5l0.6 0.5l-0.5 0.5zM1623.6 650.9l0.4 -0.3l0.4 0.4l-0.4 0.3zM1624.7 648.8l0.6 -0.5l0.6 0.5l-0.5 0.5zM1625.2 647.4l0.7 -0.6l0.7 0.7l-0.7 0.6zM1623.5 647.5l0.5 -0.4l0.5 0.5l-0.5 0.4zM1622.1 650.4l0.5 -0.4l0.5 0.4l-0.4 0.4zM1626.3 649.5l0.4 -0.3l0.4 0.4l-0.4 0.3zM1623.7 647.6l0.7 -0.6l0.7 0.7l-0.7 0.6zM1622.5 649.2l0.7 -0.6l0.7 0.7l-0.7 0.6zM1621.2 650.2l0.7 -0.6l0.7 0.7l-0.7 0.6zM1623.5 654.7l0.5 -0.4l0.5 0.5l-0.5 0.4zM1618.7 655.6l0.7 -0.6l0.7 0.7l-0.7 0.6zM1620.8 652.2l0.6 -0.5l0.6 0.5l-0.5 0.5zM1621.5 653.9l0.8 -0.6l0.8 0.7l-0.7 0.6zM1619.0 654.9l0.5 -0.4l0.5 0.4l-0.4 0.4zM1620.7 654.9l0.7 -0.5l0.7 0.6l-0.6 0.5zM1619.8 653.8l0.5 -0.4l0.5 0.4l-0.4 0.4zM1619.2 656.2l0.7 -0.6l0.7 0.6l-0.6 0.6zM1620.0 657.6l0.7 -0.5l0.7 0.6l-0.6 0.5zM1619.7 654.8l0.8 -0.6l0.8 0.7l-0.7 0.6zM1623.5 655.8l0.5 -0.4l0.5 0.4l-0.4 0.4zM1621.3 657.5l0.6 -0.5l0.6 0.6l-0.6 0.5zM1619.8 653.6l0.7 -0.6l0.7 0.6l-0.6 0.6zM1622.4 654.4l0.4 -0.3l0.4 0.4l-0.4 0.3zM1621.0 651.7l0.7 -0.6l0.7 0.6l-0.6 0.6zM1615.8 661.9l0.6 -0.5l0.6 0.5l-0.5 0.5zM1619.0 659.6l0.4 -0.3l0.4 0.4l-0.4 0.3zM1620.6 661.0l0.4 -0.3l0.4 0.4l-0.4 0.3zM1616.6 660.5l0.5 -0.4l0.5 0.4l-0.4 0.4zM1617.7 656.6l0.8 -0.6l0.8 0.7l-0.7 0.6zM1618.1 662.8l0.7 -0.6l0.7 0.6l-0.6 0.6zM1615.0 661.8l0.6 -0.5l0.6 0.6l-0.6 0.5zM1617.9 660.3l0.8 -0.6l0.8 0.7l-0.7 0.6zM1619.7 663.1l0.4 -0.3l0.4 0.4l-0.4 0.3zM1618.0 661.4l0.7 -0.5l0.7 0.6l-0.6 0.5zM1619.2 661.8l0.5 -0.4l0.5 0.4l-0.4 0.4zM1615.9 662.1l0.6 -0.5l0.6 0.6l-0.6 0.5zM1617.5 662.8l0.5 -0.4l0.5 0.4l-0.4 0.4zM1617.9 658.2l0.6 -0.5l0.6 0.6l-0.6 0.5zM1618.3 664.1l0.5 -0.4l0.5 0.5l-0.5 0.4zM1612.6 665.8l0.5 -0.4l0.5 0.5l-0.5 0.4zM1614.9 662.1l0.6 -0.5l0.6 0.5l-0.5 0.5zM1614.4 666.2l0.5 -0.4l0.5 0.5l-0.5 0.4zM1613.7 667.4l0.4 -0.3l0.4 0.4l-0.4 0.3zM1618.1 665.0l0.8 -0.6l0.8 0.7l-0.7 0.6zM1613.6 667.2l0.5 -0.4l0.5 0.4l-0.4 0.4zM1615.0 662.6l0.4 -0.4l0.4 0.4l-0.4 0.4zM1614.9 668.4l0.7 -0.6l0.7 0.6l-0.6 0.6zM1614.7 662.8l0.5 -0.4l0.5 0.4l-0.4 0.4zM1611.7 666.1l0.7 -0.6l0.7 0.6l-0.6 0.6zM1613.8 666.0l0.8 -0.6l0.8 0.7l-0.7 0.6zM1615.4 664.1l0.4 -0.3l0.4 0.4l-0.4 0.3zM1614.5 662.3l0.5 -0.4l0.5 0.4l-0.4 0.4zM1615.3 669.4l0.5 -0.4l0.5 0.4l-0.4 0.4zM1610.8 671.7l0.7 -0.5l0.7 0.6l-0.6 0.5zM1612.9 671.8l0.7 -0.6l0.7 0.7l-0.7 0.6zM1610.7 670.5l0.7 -0.5l0.7 0.6l-0.6 0.5zM1610.7 670.5l0.6 -0.5l0.6 0.5l-0.5 0.5zM1614.1 669.1l0.6 -0.5l0.6 0.5l-0.5 0.5zM1611.3 666.7l0.7 -0.6l0.7 0.7l-0.7 0.6zM1611.5 668.0l0.7 -0.5l0.7 0.6l-0.6 0.5zM1609.4 670.4l0.5 -0.4l0.5 0.5l-0.5 0.4zM1610.0 668.0l0.7 -0.6l0.7 0.7l-0.7 0.6zM1615.3 669.1l0.4 -0.3l0.4 0.4l-0.4 0.3zM1613.9 669.2l0.7 -0.6l0.7 0.6l-0.6 0.6zM1606.8 673.5l0.7 -0.5l0.7 0.6l-0.6 0.5zM1609.5 674.0l0.8 -0.6l0.8 0.7l-0.7 0.6zM1607.8 676.3l0.8 -0.6l0.8 0.7l-0.7 0.6zM1608.9 674.8l0.7 -0.6l0.7 0.7l-0.7 0.6zM1605.8 672.5l0.6 -0.5l0.6 0.6l-0.6 0.5zM1604.8 674.1l0.6 -0.5l0.6 0.6l-0.6 0.5zM1606.0 675.2l0.4 -0.3l0.4 0.3l-0.3 0.3zM1605.8 673.0l0.7 -0.6l0.7 0.7l-0.7 0.6zM1605.8 673.2l0.8 -0.6l0.8 0.7l-0.7 0.6zM1606.0 673.2l0.7 -0.6l0.7 0.7l-0.7 0.6zM1606.8 676.7l0.7 -0.6l0.7 0.7l-0.7 0.6zM1607.2 674.9l0.6 -0.5l0.6 0.6l-0.6 0.5zM1609.1 676.1l0.5 -0.4l0.5 0.5l-0.5 0.4zM1602.8 677.2l0.6 -0.5l0.6 0.5l-0.5 0.5zM1602.5 676.1l0.4 -0.4l0.4 0.4l-0.4 0.4zM1605.9 676.4l0.8 -0.6l0.8 0.7l-0.7 0.6zM1601.6 676.1l0.8 -0.6l0.8 0.7l-0.7 0.6zM1602.7 677.6l0.4 -0.3l0.4 0.3l-0.3 0.3zM1602.8 678.2l0.6 -0.5l0.6 0.6l-0.6 0.5zM1606.3 676.0l0.4 -0.3l0.4 0.3l-0.3 0.3zM1602.6 675.5l0.5 -0.4l0.5 0.5l-0.5 0.4zM1603.1 678.9l0.7 -0.6l0.7 0.6l-0.6 0.6zM1603.7 675.5l0.6 -0.5l0.6 0.6l-0.6 0.5zM1604.5 674.7l0.8 -0.6l0.8 0.7l-0.7 0.6zM1599.4 681.0l0.7 -0.5l0.7 0.6l-0.6 0.5zM1601.6 681.7l0.5 -0.4l0.5 0.5l-0.5 0.4zM1600.1 677.8l0.7 -0.6l0.7 0.7l-0.7 0.6zM1599.2 681.3l0.7 -0.6l0.7 0.6l-0.6 0.6zM1601.8 679.8l0.7 -0.6l0.7 0.7l-0.7 0.6zM1602.2 679.4l0.5 -0.4l0.5 0.4l-0.4 0.4zM1599.7 679.2l0.5 -0.4l0.5 0.4l-0.4 0.4zM1604.1 680.2l0.4 -0.3l0.4 0.4l-0.4 0.3zM1598.9 680.3l0.8 -0.6l0.8 0.7l-0.7 0.6zM1600.5 677.8l0.4 -0.4l0.4 0.4l-0.4 0.4zM1600.9 682.2l0.8 -0.6l0.8 0.7l-0.7 0.6zM1599.8 679.2l0.5 -0.4l0.5 0.5l-0.5 0.4zM1595.7 685.7l0.5 -0.4l0.5 0.4l-0.4 0.4zM1595.7 685.0l0.8 -0.6l0.8 0.7l-0.7 0.6zM1599.1 683.8l0.6 -0.5l0.6 0.6l-0.6 0.5zM1595.5 685.2l0.7 -0.6l0.7 0.7l-0.7 0.6zM1600.5 683.9l0.4 -0.3l0.4 0.3l-0.3 0.3zM1596.4 684.8l0.4 -0.4l0.4 0.4l-0.4 0.4zM1599.2 681.9l0.5 -0.4l0.5 0.4l-0.4 0.4zM1597.2 686.9l0.5 -0.4l0.5 0.5l-0.5 0.4zM1595.7 685.7l0.4 -0.4l0.4 0.4l-0.4 0.4zM1599.0 688.2l0.7 -0.5l0.7 0.6l-0.6 0.5zM1595.2 685.5l0.8 -0.6l0.8 0.7l-0.7 0.6zM1598.2 685.9l0.7 -0.6l0.7 0.7l-0.7 0.6zM1598.7 682.0l0.4 -0.3l0.4 0.4l-0.4 0.3zM1595.0 688.7l0.5 -0.4l0.5 0.5l-0.5 0.4zM1595.5 690.7l0.7 -0.6l0.7 0.6l-0.6 0.6zM1595.5 685.9l0.4 -0.4l0.4 0.4l-0.4 0.4zM1596.1 687.8l0.4 -0.4l0.4 0.4l-0.4 0.4zM1594.0 688.3l0.5 -0.4l0.5 0.5l-0.5 0.4zM1596.4 691.1l0.4 -0.3l0.4 0.4l-0.4 0.3zM1597.8 690.1l0.4 -0.4l0.4 0.4l-0.4 0.4zM1595.3 685.9l0.7 -0.6l0.7 0.6l-0.6 0.6zM1596.2 691.1l0.6 -0.5l0.6 0.5l-0.5 0.5zM1595.6 686.2l0.7 -0.5l0.7 0.6l-0.6 0.5zM1594.2 687.0l0.5 -0.4l0.5 0.5l-0.5 0.4zM1592.1 691.0l0.4 -0.3l0.4 0.4l-0.4 0.3zM1594.3 691.4l0.7 -0.5l0.7 0.6l-0.6 0.5zM1591.0 690.3l0.5 -0.4l0.5 0.4l-0.4 0.4zM1593.3 693.6l0.6 -0.5l0.6 0.5l-0.5 0.5zM1590.4 693.3l0.4 -0.3l0.4 0.4l-0.4 0.3zM1591.6 692.4l0.6 -0.5l0.6 0.6l-0.6 0.5zM1589.8 691.2l0.5 -0.4l0.5 0.5l-0.5 0.4zM1589.9 691.6l0.4 -0.3l0.4 0.3l-0.3 0.3zM1592.0 689.9l0.5 -0.4l0.5 0.5l-0.5 0.4zM1592.9 691.6l0.4 -0.3l0.4 0.4l-0.4 0.3zM1592.9 691.9l0.6 -0.5l0.6 0.5l-0.5 0.5zM1587.3 694.5l0.5 -0.4l0.5 0.5l-0.5 0.4zM1589.1 694.6l0.5 -0.4l0.5 0.5l-0.5 0.4zM1587.3 694.2l0.6 -0.4l0.6 0.5l-0.5 0.4zM1591.5 695.2l0.6 -0.5l0.6 0.6l-0.6 0.5zM1586.8 694.4l0.7 -0.5l0.7 0.6l-0.6 0.5zM1587.5 693.4l0.7 -0.6l0.7 0.6l-0.6 0.6zM1586.8 694.1l0.8 -0.6l0.8 0.7l-0.7 0.6zM1588.7 695.4l0.6 -0.5l0.6 0.5l-0.5 0.5z" fill="#111" stroke="#000" stroke-width="0.5"/>
<path d="M1585.8 699.1l0.8 -0.6l0.8 0.7l-0.7 0.6zM1586.7 699.5l0.4 -0.3l0.4 0.3l-0.3 0.3zM1587.6 698.2l0.6 -0.5l0.6 0.6l-0.6 0.5zM1583.5 698.6l0.6 -0.4l0.6 0.5l-0.5 0.4zM1586.9 696.0l0.6 -0.5l0.6 0.5l-0.5 0.5zM1587.1 694.2l0.5 -0.4l0.5 0.4l-0.4 0.4zM1585.4 699.9l0.4 -0.3l0.4 0.4l-0.4 0.3zM1583.9 698.1l0.6 -0.5l0.6 0.6l-0.6 0.5zM1586.1 694.6l0.7 -0.6l0.7 0.7l-0.7 0.6zM1586.0 695.2l0.8 -0.6l0.8 0.7l-0.7 0.6zM1584.2 702.4l0.6 -0.5l0.6 0.5l-0.5 0.5zM1580.5 701.7l0.8 -0.6l0.8 0.7l-0.7 0.6zM1582.5 704.0l0.8 -0.6l0.8 0.7l-0.7 0.6zM1582.6 700.6l0.4 -0.3l0.4 0.4l-0.4 0.3zM1582.7 699.6l0.5 -0.4l0.5 0.4l-0.4 0.4zM1580.7 701.3l0.7 -0.5l0.7 0.6l-0.6 0.5zM1582.0 700.6l0.7 -0.6l0.7 0.6l-0.6 0.6zM1581.6 701.2l0.6 -0.5l0.6 0.5l-0.5 0.5zM1580.2 701.7l0.8 -0.6l0.8 0.7l-0.7 0.6zM1576.0 708.0l0.4 -0.3l0.4 0.3l-0.3 0.3zM1574.5 706.4l0.6 -0.5l0.6 0.5l-0.5 0.5zM1579.3 702.8l0.4 -0.3l0.4 0.4l-0.4 0.3zM1573.1 706.7l0.7 -0.6l0.7 0.6l-0.6 0.6zM1575.0 709.1l0.5 -0.4l0.5 0.5l-0.5 0.4zM1577.5 705.2l0.7 -0.6l0.7 0.6l-0.6 0.6zM1579.6 705.0l0.7 -0.6l0.7 0.6l-0.6 0.6zM1573.5 706.1l0.8 -0.6l0.8 0.7l-0.7 0.6zM1578.9 703.6l0.6 -0.5l0.6 0.6l-0.6 0.5zM1573.5 706.9l0.8 -0.6l0.8 0.7l-0.7 0.6zM1576.1 705.3l0.5 -0.4l0.5 0.4l-0.4 0.4zM1578.3 703.5l0.4 -0.3l0.4 0.4l-0.4 0.3zM1567.9 709.4l0.4 -0.3l0.4 0.3l-0.3 0.3zM1568.3 710.4l0.5 -0.4l0.5 0.5l-0.5 0.4zM1572.1 708.6l0.7 -0.6l0.7 0.6l-0.6 0.6zM1571.1 708.6l0.4 -0.3l0.4 0.3l-0.3 0.3zM1568.1 709.0l0.6 -0.5l0.6 0.5l-0.5 0.5zM1568.4 708.9l0.7 -0.5l0.7 0.6l-0.6 0.5zM1568.5 710.6l0.7 -0.6l0.7 0.6l-0.6 0.6zM1572.9 707.7l0.4 -0.3l0.4 0.4l-0.4 0.3zM1568.7 709.3l0.6 -0.4l0.6 0.5l-0.5 0.4zM1562.1 714.6l0.6 -0.4l0.6 0.5l-0.5 0.4zM1564.5 712.5l0.6 -0.5l0.6 0.5l-0.5 0.5zM1565.8 710.8l0.4 -0.3l0.4 0.4l-0.4 0.3zM1565.6 713.5l0.8 -0.6l0.8 0.7l-0.7 0.6zM1563.2 712.0l0.5 -0.4l0.5 0.5l-0.5 0.4zM1567.0 709.9l0.7 -0.6l0.7 0.6l-0.6 0.6zM1561.0 712.1l0.7 -0.6l0.7 0.6l-0.6 0.6zM1562.2 713.1l0.6 -0.5l0.6 0.6l-0.6 0.5zM1561.9 711.9l0.7 -0.5l0.7 0.6l-0.6 0.5zM1565.7 711.0l0.7 -0.6l0.7 0.6l-0.6 0.6zM1562.2 711.5l0.8 -0.6l0.8 0.7l-0.7 0.6zM1563.3 712.3l0.4 -0.3l0.4 0.3l-0.3 0.3zM1563.4 711.0l0.7 -0.5l0.7 0.6l-0.6 0.5zM1564.8 712.8l0.6 -0.5l0.6 0.6l-0.6 0.5zM1557.5 714.2l0.7 -0.5l0.7 0.6l-0.6 0.5zM1553.5 714.0l0.7 -0.6l0.7 0.7l-0.7 0.6zM1553.4 715.3l0.8 -0.6l0.8 0.7l-0.7 0.6zM1552.8 714.8l0.6 -0.5l0.6 0.5l-0.5 0.5zM1559.0 714.7l0.8 -0.6l0.8 0.7l-0.7 0.6zM1556.6 714.6l0.7 -0.5l0.7 0.6l-0.6 0.5zM1554.2 713.4l0.7 -0.6l0.7 0.6l-0.6 0.6zM1555.9 714.7l0.5 -0.4l0.5 0.5l-0.5 0.4zM1555.6 715.3l0.6 -0.5l0.6 0.6l-0.6 0.5zM1554.5 713.2l0.4 -0.3l0.4 0.4l-0.4 0.3zM1557.0 714.4l0.4 -0.4l0.4 0.4l-0.4 0.4zM1555.2 714.8l0.4 -0.3l0.4 0.3l-0.3 0.3zM1556.5 713.0l0.4 -0.3l0.4 0.3l-0.3 0.3zM1550.3 713.9l0.4 -0.3l0.4 0.4l-0.4 0.3zM1552.0 714.7l0.5 -0.4l0.5 0.5l-0.5 0.4zM1548.4 715.2l0.5 -0.4l0.5 0.4l-0.4 0.4zM1546.4 713.7l0.5 -0.4l0.5 0.5l-0.5 0.4zM1550.6 714.6l0.4 -0.3l0.4 0.4l-0.4 0.3zM1547.0 714.4l0.4 -0.3l0.4 0.3l-0.3 0.3zM1548.2 713.8l0.6 -0.5l0.6 0.5l-0.5 0.5zM1549.8 715.2l0.8 -0.6l0.8 0.7l-0.7 0.6zM1546.8 714.6l0.7 -0.6l0.7 0.6l-0.6 0.6zM1548.2 714.4l0.4 -0.3l0.4 0.4l-0.4 0.3zM1543.9 717.3l0.8 -0.6l0.8 0.7l-0.7 0.6zM1543.3 714.8l0.8 -0.6l0.8 0.7l-0.7 0.6zM1545.7 713.8l0.6 -0.5l0.6 0.5l-0.5 0.5zM1543.3 714.3l0.6 -0.5l0.6 0.6l-0.6 0.5zM1542.4 715.1l0.5 -0.4l0.5 0.5l-0.5 0.4zM1544.7 714.4l0.8 -0.6l0.8 0.7l-0.7 0.6zM1544.0 718.7l0.6 -0.5l0.6 0.6l-0.6 0.5zM1544.8 716.1l0.6 -0.5l0.6 0.5l-0.5 0.5zM1541.7 716.2l0.8 -0.6l0.8 0.7l-0.7 0.6zM1541.8 716.5l0.6 -0.5l0.6 0.5l-0.5 0.5zM1543.2 715.3l0.5 -0.4l0.5 0.5l-0.5 0.4zM1543.7 716.1l0.7 -0.6l0.7 0.6l-0.6 0.6zM1540.6 720.6l0.8 -0.6l0.8 0.7l-0.7 0.6zM1540.5 721.5l0.5 -0.4l0.5 0.4l-0.4 0.4zM1544.2 720.0l0.5 -0.4l0.5 0.4l-0.4 0.4zM1541.2 721.1l0.6 -0.5l0.6 0.6l-0.6 0.5zM1542.5 721.4l0.4 -0.3l0.4 0.4l-0.4 0.3zM1540.5 721.5l0.6 -0.5l0.6 0.5l-0.5 0.5zM1539.6 723.9l0.6 -0.4l0.6 0.5l-0.5 0.4zM1539.9 724.8l0.6 -0.5l0.6 0.6l-0.6 0.5zM1540.0 722.6l0.6 -0.4l0.6 0.5l-0.5 0.4zM1538.6 726.8l0.6 -0.5l0.6 0.5l-0.5 0.5zM1541.2 724.0l0.5 -0.4l0.5 0.5l-0.5 0.4zM1539.1 725.2l0.6 -0.5l0.6 0.6l-0.6 0.5zM1540.1 725.8l0.5 -0.4l0.5 0.5l-0.5 0.4zM1534.6 727.2l0.5 -0.4l0.5 0.4l-0.4 0.4zM1534.3 727.0l0.7 -0.6l0.7 0.7l-0.7 0.6zM1535.5 727.2l0.5 -0.4l0.5 0.4l-0.4 0.4zM1536.9 728.9l0.4 -0.3l0.4 0.4l-0.4 0.3zM1536.3 726.9l0.6 -0.5l0.6 0.5l-0.5 0.5zM1535.8 725.8l0.6 -0.5l0.6 0.6l-0.6 0.5zM1533.8 727.8l0.7 -0.6l0.7 0.6l-0.6 0.6zM1532.2 730.9l0.4 -0.3l0.4 0.3l-0.3 0.3zM1532.9 732.0l0.8 -0.6l0.8 0.7l-0.7 0.6zM1531.2 729.2l0.7 -0.6l0.7 0.7l-0.7 0.6zM1533.9 729.4l0.8 -0.6l0.8 0.7l-0.7 0.6zM1531.4 729.3l0.5 -0.4l0.5 0.4l-0.4 0.4zM1530.5 729.9l0.6 -0.5l0.6 0.6l-0.6 0.5zM1532.5 728.6l0.6 -0.5l0.6 0.6l-0.6 0.5zM1530.2 730.8l0.4 -0.3l0.4 0.3l-0.3 0.3zM1530.4 731.3l0.7 -0.5l0.7 0.6l-0.6 0.5zM1526.8 731.7l0.5 -0.4l0.5 0.5l-0.5 0.4zM1529.6 731.9l0.6 -0.5l0.6 0.5l-0.5 0.5zM1527.0 732.4l0.4 -0.3l0.4 0.3l-0.3 0.3zM1527.4 731.4l0.6 -0.5l0.6 0.6l-0.6 0.5zM1521.7 733.8l0.6 -0.5l0.6 0.6l-0.6 0.5zM1525.2 733.3l0.5 -0.4l0.5 0.4l-0.4 0.4zM1522.7 733.6l0.4 -0.3l0.4 0.4l-0.4 0.3zM1525.1 732.7l0.7 -0.5l0.7 0.6l-0.6 0.5zM1525.6 734.0l0.6 -0.5l0.6 0.6l-0.6 0.5zM1526.3 733.7l0.4 -0.3l0.4 0.4l-0.4 0.3zM1526.0 733.4l0.5 -0.4l0.5 0.4l-0.4 0.4zM1522.0 733.5l0.5 -0.4l0.5 0.4l-0.4 0.4zM1520.9 734.6l0.4 -0.3l0.4 0.3l-0.3 0.3zM1519.9 735.6l0.7 -0.5l0.7 0.6l-0.6 0.5zM1520.1 732.5l0.8 -0.6l0.8 0.7l-0.7 0.6zM1518.3 734.6l0.4 -0.3l0.4 0.4l-0.4 0.3zM1518.7 732.7l0.5 -0.4l0.5 0.4l-0.4 0.4zM1519.6 733.9l0.5 -0.4l0.5 0.5l-0.5 0.4zM1519.5 732.4l0.7 -0.6l0.7 0.7l-0.7 0.6zM1514.4 734.3l0.7 -0.6l0.7 0.7l-0.7 0.6zM1515.8 734.2l0.6 -0.5l0.6 0.5l-0.5 0.5zM1514.9 734.0l0.4 -0.3l0.4 0.4l-0.4 0.3zM1517.3 732.1l0.4 -0.3l0.4 0.3l-0.3 0.3zM1514.2 734.6l0.7 -0.6l0.7 0.6l-0.6 0.6zM1517.5 732.8l0.8 -0.6l0.8 0.7l-0.7 0.6zM1515.2 733.9l0.6 -0.4l0.6 0.5l-0.5 0.4zM1512.7 734.3l0.5 -0.4l0.5 0.5l-0.5 0.4zM1512.5 737.2l0.4 -0.3l0.4 0.4l-0.4 0.3zM1512.3 734.7l0.4 -0.3l0.4 0.4l-0.4 0.3zM1512.0 734.7l0.6 -0.5l0.6 0.5l-0.5 0.5zM1514.3 736.8l0.5 -0.4l0.5 0.5l-0.5 0.4zM1509.1 737.4l0.7 -0.5l0.7 0.6l-0.6 0.5zM1512.2 737.7l0.4 -0.3l0.4 0.4l-0.4 0.3zM1510.0 735.6l0.7 -0.5l0.7 0.6l-0.6 0.5zM1507.8 736.3l0.4 -0.3l0.4 0.3l-0.3 0.3zM1507.3 736.2l0.5 -0.4l0.5 0.5l-0.5 0.4zM1504.7 738.2l0.5 -0.4l0.5 0.4l-0.4 0.4zM1506.4 737.0l0.7 -0.5l0.7 0.6l-0.6 0.5zM1505.5 737.3l0.5 -0.4l0.5 0.4l-0.4 0.4zM1506.8 739.9l0.6 -0.5l0.6 0.6l-0.6 0.5zM1508.2 739.6l0.4 -0.3l0.4 0.3l-0.3 0.3zM1502.5 740.3l0.4 -0.3l0.4 0.3l-0.3 0.3zM1504.6 741.8l0.6 -0.5l0.6 0.5l-0.5 0.5zM1503.3 738.6l0.4 -0.3l0.4 0.3l-0.3 0.3zM1501.8 740.9l0.8 -0.6l0.8 0.7l-0.7 0.6zM1504.5 738.1l0.4 -0.3l0.4 0.3l-0.3 0.3zM1503.1 738.7l0.5 -0.4l0.5 0.4l-0.4 0.4zM1500.4 741.1l0.4 -0.3l0.4 0.3l-0.3 0.3zM1498.6 743.0l0.6 -0.5l0.6 0.5l-0.5 0.5zM1501.0 742.2l0.4 -0.3l0.4 0.3l-0.3 0.3zM1500.2 741.2l0.6 -0.5l0.6 0.5l-0.5 0.5zM1499.5 743.8l0.7 -0.6l0.7 0.7l-0.7 0.6zM1500.4 740.8l0.6 -0.5l0.6 0.5l-0.5 0.5z" fill="#111" stroke="#000" stroke-width="0.5"/>
<path d="M1543.7 718.7l0.7 -0.6l0.7 0.7l-0.7 0.6zM1541.1 716.3l0.8 -0.6l0.8 0.7l-0.7 0.6zM1541.5 717.0l0.6 -0.5l0.6 0.6l-0.6 0.5zM1541.7 716.4l0.7 -0.5l0.7 0.6l-0.6 0.5zM1543.2 720.1l0.4 -0.3l0.4 0.4l-0.4 0.3zM1543.1 717.7l0.6 -0.5l0.6 0.5l-0.5 0.5zM1545.8 723.5l0.7 -0.6l0.7 0.6l-0.6 0.6zM1542.9 719.6l0.4 -0.3l0.4 0.4l-0.4 0.3zM1542.3 718.8l0.7 -0.5l0.7 0.6l-0.6 0.5zM1544.2 719.1l0.5 -0.4l0.5 0.4l-0.4 0.4zM1542.7 717.6l0.7 -0.6l0.7 0.6l-0.6 0.6zM1549.5 727.9l0.4 -0.3l0.4 0.3l-0.3 0.3zM1548.3 725.3l0.4 -0.3l0.4 0.3l-0.3 0.3zM1547.6 726.5l0.4 -0.3l0.4 0.4l-0.4 0.3zM1549.4 725.5l0.6 -0.5l0.6 0.5l-0.5 0.5zM1550.7 726.6l0.4 -0.3l0.4 0.3l-0.3 0.3zM1547.1 724.4l0.4 -0.3l0.4 0.3l-0.3 0.3zM1547.3 722.8l0.5 -0.4l0.5 0.5l-0.5 0.4zM1548.0 724.1l0.4 -0.3l0.4 0.4l-0.4 0.3zM1545.6 724.3l0.6 -0.5l0.6 0.6l-0.6 0.5zM1542.1 722.6l0.6 -0.5l0.6 0.5l-0.5 0.5zM1545.5 724.2l0.5 -0.4l0.5 0.4l-0.4 0.4zM1543.1 720.3l0.4 -0.3l0.4 0.4l-0.4 0.3zM1545.6 721.8l0.5 -0.4l0.5 0.4l-0.4 0.4zM1545.4 724.2l0.5 -0.4l0.5 0.5l-0.5 0.4zM1545.1 723.0l0.7 -0.6l0.7 0.6l-0.6 0.6zM1550.1 726.3l0.7 -0.6l0.7 0.7l-0.7 0.6zM1545.9 723.7l0.5 -0.4l0.5 0.5l-0.5 0.4zM1542.6 721.6l0.4 -0.3l0.4 0.3l-0.3 0.3zM1539.9 724.1l0.4 -0.4l0.4 0.4l-0.4 0.4zM1539.5 725.0l0.4 -0.3l0.4 0.4l-0.4 0.3zM1538.5 726.5l0.7 -0.6l0.7 0.6l-0.6 0.6zM1540.4 721.5l0.7 -0.6l0.7 0.6l-0.6 0.6zM1538.4 724.7l0.5 -0.4l0.5 0.4l-0.4 0.4zM1537.8 726.8l0.5 -0.4l0.5 0.4l-0.4 0.4zM1536.6 728.3l0.5 -0.4l0.5 0.5l-0.5 0.4zM1537.0 727.7l0.7 -0.5l0.7 0.6l-0.6 0.5zM1539.7 722.3l0.5 -0.4l0.5 0.4l-0.4 0.4zM1540.0 721.2l0.4 -0.3l0.4 0.4l-0.4 0.3zM1531.2 731.9l0.4 -0.3l0.4 0.3l-0.3 0.3zM1536.4 729.0l0.5 -0.4l0.5 0.5l-0.5 0.4zM1532.2 729.4l0.5 -0.4l0.5 0.5l-0.5 0.4zM1535.6 728.7l0.4 -0.3l0.4 0.4l-0.4 0.3zM1535.6 728.5l0.7 -0.5l0.7 0.6l-0.6 0.5zM1535.9 728.6l0.7 -0.5l0.7 0.6l-0.6 0.5zM1532.3 731.5l0.7 -0.6l0.7 0.7l-0.7 0.6zM1534.9 728.4l0.7 -0.6l0.7 0.6l-0.6 0.6z" fill="#111" stroke="#000" stroke-width="0.5"/>
<path d="M1651.6 378.6l0.5 -0.4l0.5 0.4l-0.4 0.4zM1650.1 376.7l0.6 -0.4l0.6 0.5l-0.5 0.4zM1653.0 381.5l0.5 -0.4l0.5 0.4l-0.4 0.4zM1652.3 382.8l0.5 -0.4l0.5 0.5l-0.5 0.4zM1652.5 381.9l0.4 -0.3l0.4 0.4l-0.4 0.3zM1651.6 384.9l0.7 -0.6l0.7 0.6l-0.6 0.6zM1653.5 383.4l0.5 -0.4l0.5 0.5l-0.5 0.4zM1652.2 381.9l0.7 -0.6l0.7 0.6l-0.6 0.6zM1651.6 385.8l0.6 -0.5l0.6 0.6l-0.6 0.5zM1653.2 388.4l0.6 -0.5l0.6 0.6l-0.6 0.5zM1652.5 387.2l0.5 -0.4l0.5 0.5l-0.5 0.4zM1645.3 389.7l0.6 -0.5l0.6 0.6l-0.6 0.5zM1646.2 390.8l0.8 -0.6l0.8 0.7l-0.7 0.6zM1649.0 388.7l0.6 -0.5l0.6 0.6l-0.6 0.5zM1648.2 389.7l0.4 -0.3l0.4 0.4l-0.4 0.3zM1649.3 387.3l0.6 -0.5l0.6 0.6l-0.6 0.5zM1647.5 387.8l0.6 -0.5l0.6 0.5l-0.5 0.5zM1645.8 388.2l0.7 -0.6l0.7 0.7l-0.7 0.6zM1650.8 387.0l0.7 -0.6l0.7 0.6l-0.6 0.6zM1644.7 388.3l0.8 -0.6l0.8 0.7l-0.7 0.6zM1650.2 386.7l0.5 -0.4l0.5 0.5l-0.5 0.4zM1648.0 387.7l0.8 -0.6l0.8 0.7l-0.7 0.6zM1645.0 387.9l0.7 -0.5l0.7 0.6l-0.6 0.5zM1655.2 382.8l0.8 -0.6l0.8 0.7l-0.7 0.6zM1653.8 382.2l0.8 -0.6l0.8 0.7l-0.7 0.6zM1652.3 383.2l0.7 -0.6l0.7 0.6l-0.6 0.6zM1656.0 380.1l0.5 -0.4l0.5 0.5l-0.5 0.4zM1654.7 381.0l0.5 -0.4l0.5 0.4l-0.4 0.4zM1655.9 379.8l0.4 -0.3l0.4 0.4l-0.4 0.3zM1658.6 378.6l0.5 -0.4l0.5 0.5l-0.5 0.4zM1659.2 378.5l0.8 -0.6l0.8 0.7l-0.7 0.6zM1659.3 378.6l0.7 -0.6l0.7 0.7l-0.7 0.6zM1661.4 377.6l0.6 -0.5l0.6 0.5l-0.5 0.5zM1663.4 375.5l0.5 -0.4l0.5 0.4l-0.4 0.4zM1665.4 373.4l0.6 -0.5l0.6 0.6l-0.6 0.5zM1664.3 371.1l0.5 -0.4l0.5 0.5l-0.5 0.4zM1664.9 374.1l0.5 -0.4l0.5 0.5l-0.5 0.4zM1668.9 369.0l0.5 -0.4l0.5 0.4l-0.4 0.4zM1666.4 372.3l0.4 -0.3l0.4 0.3l-0.3 0.3zM1666.0 371.0l0.4 -0.3l0.4 0.4l-0.4 0.3zM1669.1 371.5l0.8 -0.6l0.8 0.7l-0.7 0.6z" fill="#111" stroke="#000" stroke-width="0.5"/>
<path d="M1619.0 461.3l0.4 -0.3l0.4 0.3l-0.3 0.3zM1620.7 459.5l0.4 -0.3l0.4 0.3l-0.3 0.3zM1622.2 456.7l0.4 -0.3l0.4 0.3l-0.3 0.3zM1622.1 456.4l0.7 -0.6l0.7 0.6l-0.6 0.6zM1625.5 450.4l0.8 -0.6l0.8 0.7l-0.7 0.6zM1629.8 445.1l0.4 -0.3l0.4 0.3l-0.3 0.3zM1633.5 443.8l0.4 -0.3l0.4 0.4l-0.4 0.3zM1629.1 447.8l0.7 -0.6l0.7 0.6l-0.6 0.6zM1636.8 440.0l0.5 -0.4l0.5 0.5l-0.5 0.4zM1637.4 440.9l0.4 -0.3l0.4 0.3l-0.3 0.3zM1639.3 436.6l0.5 -0.4l0.5 0.4l-0.4 0.4zM1640.8 434.0l0.7 -0.6l0.7 0.6l-0.6 0.6zM1641.7 433.3l0.6 -0.5l0.6 0.5l-0.5 0.5zM1647.2 429.5l0.5 -0.4l0.5 0.4l-0.4 0.4zM1648.1 430.3l0.5 -0.4l0.5 0.5l-0.5 0.4zM1649.3 429.4l0.4 -0.3l0.4 0.3l-0.3 0.3zM1652.8 427.7l0.6 -0.5l0.6 0.5l-0.5 0.5zM1654.6 428.1l0.7 -0.5l0.7 0.6l-0.6 0.5zM1656.5 426.5l0.7 -0.6l0.7 0.7l-0.7 0.6zM1659.7 424.1l0.4 -0.3l0.4 0.3l-0.3 0.3zM1660.2 423.6l0.8 -0.6l0.8 0.7l-0.7 0.6zM1662.1 422.1l0.7 -0.5l0.7 0.6l-0.6 0.5zM1661.9 423.5l0.4 -0.3l0.4 0.4l-0.4 0.3zM1662.5 419.1l0.4 -0.3l0.4 0.4l-0.4 0.3zM1661.3 417.7l0.7 -0.6l0.7 0.7l-0.7 0.6zM1653.8 416.2l0.7 -0.6l0.7 0.7l-0.7 0.6zM1651.8 417.4l0.5 -0.4l0.5 0.4l-0.4 0.4zM1647.5 415.7l0.8 -0.6l0.8 0.7l-0.7 0.6zM1649.8 415.5l0.5 -0.4l0.5 0.4l-0.4 0.4zM1642.7 410.9l0.5 -0.4l0.5 0.4l-0.4 0.4zM1645.9 412.2l0.5 -0.4l0.5 0.5l-0.5 0.4zM1635.6 410.5l0.6 -0.5l0.6 0.5l-0.5 0.5zM1637.3 410.1l0.4 -0.3l0.4 0.3l-0.3 0.3zM1632.8 414.1l0.7 -0.6l0.7 0.6l-0.6 0.6zM1633.9 411.6l0.4 -0.3l0.4 0.4l-0.4 0.3zM1632.6 412.3l0.4 -0.3l0.4 0.3l-0.3 0.3zM1630.7 414.8l0.4 -0.3l0.4 0.3l-0.3 0.3zM1631.0 414.0l0.4 -0.3l0.4 0.4l-0.4 0.3zM1628.5 419.4l0.6 -0.5l0.6 0.6l-0.6 0.5zM1627.1 419.0l0.5 -0.4l0.5 0.5l-0.5 0.4zM1622.7 424.1l0.8 -0.6l0.8 0.7l-0.7 0.6zM1621.1 423.5l0.4 -0.3l0.4 0.3l-0.3 0.3zM1616.6 422.6l0.7 -0.6l0.7 0.7l-0.7 0.6z" fill="#111" stroke="#000" stroke-width="0.5"/>
<circle cx="1524.7" cy="826.6" r="0.7" fill="#000"/>
<circle cx="1527.5" cy="833.4" r="0.7" fill="#000"/>
<circle cx="1522" cy="840.5" r="0.7" fill="#000"/>
<circle cx="1528.5" cy="844" r="0.7" fill="#000"/></g>
<rect x="1732.5" y="751.5" width="164.8" height="163.3" fill="#fff" stroke="#8a8a8a" stroke-width="1"/>
<polyline points="1739.1,751.6 1741.0,755.4 1745.7,758.2 1750.4,762.9 1755.2,763.8 1759.9,762.9 1764.6,765.7 1769.3,762.9 1771.2,758.2 1773.1,762.0 1776.8,762.9 1780.6,765.7 1781.5,768.6 1786.3,768.6 1790.0,765.7 1789.1,762.0 1791.9,763.8 1794.7,767.6 1792.8,773.3 1791.3,779.9 1792.5,786.5 1794.4,792.1 1795.7,796.8 1799.4,798.1 1804.2,796.8 1806.4,793.1 1805.1,789.3 1802.6,786.5 1803.8,782.7 1801.3,780.8 1800.4,778.0 1803.2,775.2 1806.0,773.3 1808.9,770.4 1813.6,768.6 1817.3,769.1 1819.2,766.7 1823.9,763.8 1827.7,761.0 1829.6,762.9 1832.4,760.1 1836.2,761.0 1840.0,759.1 1842.8,761.0 1845.6,756.3 1850.3,753.5 1855.0,751.6" fill="none" stroke="#000" stroke-width="0.8" stroke-linejoin="round"/>
<polyline points="1803.2,751.6 1803.2,757.3 1797.6,758.2 1795.7,762.0 1792.8,764.8" fill="none" stroke="#000" stroke-width="0.8" stroke-linejoin="round"/>
<polyline points="1807.9,800.6 1810.8,802.5 1813.6,805.3 1814.5,811.0 1812.6,814.7 1809.8,819.4 1807.9,824.2 1807.0,830.8 1805.1,835.5 1802.3,838.3 1798.5,841.1 1794.7,843.9 1791.9,847.7 1789.1,848.7 1785.3,846.8 1780.6,845.8 1776.8,843.0 1774.0,840.2 1773.1,833.6 1772.1,827.0 1773.1,821.3 1775.9,817.6 1778.7,814.7 1781.5,811.0 1784.4,807.2 1789.1,806.3 1792.8,804.4 1796.6,805.3 1800.4,803.0 1804.2,802.5 1807.9,800.6" fill="none" stroke="#000" stroke-width="0.8" stroke-linejoin="round"/>
<polyline points="1808.9,872.2 1810.2,876.5" fill="none" stroke="#000" stroke-width="0.8" stroke-linejoin="round"/>
<polyline points="1835.3,878.8 1837.7,880.3" fill="none" stroke="#000" stroke-width="0.8" stroke-linejoin="round"/>
<polyline points="1800.4,778.9 1805.1,774.2 1807.0,776.1 1804.2,779.9 1806.0,781.8" fill="none" stroke="#000" stroke-width="0.8" stroke-linejoin="round"/>
<polyline points="1848.4,752.5 1851.3,756.3 1855.0,753.5 1858.8,754.4 1862.6,752.2" fill="none" stroke="#000" stroke-width="0.8" stroke-linejoin="round"/>
<polyline points="1865.4,758.2 1871.1,753.5" fill="none" stroke="#000" stroke-width="0.8" stroke-linejoin="round"/>
<polyline points="1840.0,762.9 1845.6,763.8" fill="none" stroke="#000" stroke-width="0.8" stroke-linejoin="round"/>
<circle cx="1843.7" cy="886.7" r="0.6" fill="#222"/>
<circle cx="1832.4" cy="894.8" r="0.6" fill="#222"/>
<circle cx="1840.3" cy="901.8" r="0.6" fill="#222"/>
<circle cx="1817.3" cy="909.0" r="0.6" fill="#222"/>
<circle cx="1781.2" cy="778.2" r="0.6" fill="#222"/>
<circle cx="1818.3" cy="805.3" r="0.6" fill="#222"/>
<circle cx="1783.0" cy="781.2" r="0.6" fill="#222"/>
<circle cx="1837.1" cy="882.2" r="0.6" fill="#222"/>
<circle cx="1768.9" cy="763.8" r="0.6" fill="#222"/>
<circle cx="1772.1" cy="759.1" r="0.6" fill="#222"/>
<circle cx="1827.7" cy="762.0" r="0.6" fill="#222"/>
<circle cx="1815.5" cy="767.6" r="0.6" fill="#222"/>
<line x1="946.1" y1="692.2" x2="1275.5" y2="692.2" stroke="#c8c8c8" stroke-width="1" stroke-dasharray="1 1.2"/>
<line x1="946.1" y1="754.8" x2="1275.5" y2="754.8" stroke="#c8c8c8" stroke-width="1" stroke-dasharray="1 1.2"/>
<line x1="946.1" y1="817.4" x2="1275.5" y2="817.4" stroke="#c8c8c8" stroke-width="1" stroke-dasharray="1 1.2"/>
<rect x="946.4" y="636.6" width="291.5" height="50" fill="none" stroke="#1465A8" stroke-width="3.1"/>
<rect x="946.4" y="699.1" width="317.6" height="50" fill="none" stroke="#1465A8" stroke-width="3.1"/>
<rect x="946.4" y="761.7" width="222.5" height="50" fill="none" stroke="#1465A8" stroke-width="3.1"/>
<rect x="946.4" y="824.2" width="322.1" height="50" fill="none" stroke="#1465A8" stroke-width="3.1"/>
<line x1="946.1" y1="629.6" x2="946.1" y2="881" stroke="#333" stroke-width="1.4"/>
<line x1="944.6" y1="881" x2="1276" y2="881" stroke="#333" stroke-width="1.4"/>
<line x1="943.6" y1="629.6" x2="946.1" y2="629.6" stroke="#333" stroke-width="1.4"/>
<line x1="943.6" y1="692.2" x2="946.1" y2="692.2" stroke="#333" stroke-width="1.4"/>
<line x1="943.6" y1="754.8" x2="946.1" y2="754.8" stroke="#333" stroke-width="1.4"/>
<line x1="943.6" y1="817.4" x2="946.1" y2="817.4" stroke="#333" stroke-width="1.4"/>
<line x1="943.6" y1="880.0" x2="946.1" y2="880.0" stroke="#333" stroke-width="1.4"/>
<line x1="946.1" y1="881" x2="946.1" y2="886" stroke="#333" stroke-width="1.4"/>
<line x1="957.1" y1="881" x2="957.1" y2="883.5" stroke="#333" stroke-width="1.4"/>
<line x1="968.1" y1="881" x2="968.1" y2="883.5" stroke="#333" stroke-width="1.4"/>
<line x1="979.0" y1="881" x2="979.0" y2="883.5" stroke="#333" stroke-width="1.4"/>
<line x1="990.0" y1="881" x2="990.0" y2="883.5" stroke="#333" stroke-width="1.4"/>
<line x1="1001.0" y1="881" x2="1001.0" y2="886" stroke="#333" stroke-width="1.4"/>
<line x1="1012.0" y1="881" x2="1012.0" y2="883.5" stroke="#333" stroke-width="1.4"/>
<line x1="1023.0" y1="881" x2="1023.0" y2="883.5" stroke="#333" stroke-width="1.4"/>
<line x1="1033.9" y1="881" x2="1033.9" y2="883.5" stroke="#333" stroke-width="1.4"/>
<line x1="1044.9" y1="881" x2="1044.9" y2="883.5" stroke="#333" stroke-width="1.4"/>
<line x1="1055.9" y1="881" x2="1055.9" y2="886" stroke="#333" stroke-width="1.4"/>
<line x1="1066.9" y1="881" x2="1066.9" y2="883.5" stroke="#333" stroke-width="1.4"/>
<line x1="1077.9" y1="881" x2="1077.9" y2="883.5" stroke="#333" stroke-width="1.4"/>
<line x1="1088.8" y1="881" x2="1088.8" y2="883.5" stroke="#333" stroke-width="1.4"/>
<line x1="1099.8" y1="881" x2="1099.8" y2="883.5" stroke="#333" stroke-width="1.4"/>
<line x1="1110.8" y1="881" x2="1110.8" y2="886" stroke="#333" stroke-width="1.4"/>
<line x1="1121.8" y1="881" x2="1121.8" y2="883.5" stroke="#333" stroke-width="1.4"/>
<line x1="1132.8" y1="881" x2="1132.8" y2="883.5" stroke="#333" stroke-width="1.4"/>
<line x1="1143.7" y1="881" x2="1143.7" y2="883.5" stroke="#333" stroke-width="1.4"/>
<line x1="1154.7" y1="881" x2="1154.7" y2="883.5" stroke="#333" stroke-width="1.4"/>
<line x1="1165.7" y1="881" x2="1165.7" y2="886" stroke="#333" stroke-width="1.4"/>
<line x1="1176.7" y1="881" x2="1176.7" y2="883.5" stroke="#333" stroke-width="1.4"/>
<line x1="1187.7" y1="881" x2="1187.7" y2="883.5" stroke="#333" stroke-width="1.4"/>
<line x1="1198.6" y1="881" x2="1198.6" y2="883.5" stroke="#333" stroke-width="1.4"/>
<line x1="1209.6" y1="881" x2="1209.6" y2="883.5" stroke="#333" stroke-width="1.4"/>
<line x1="1220.6" y1="881" x2="1220.6" y2="886" stroke="#333" stroke-width="1.4"/>
<line x1="1231.6" y1="881" x2="1231.6" y2="883.5" stroke="#333" stroke-width="1.4"/>
<line x1="1242.6" y1="881" x2="1242.6" y2="883.5" stroke="#333" stroke-width="1.4"/>
<line x1="1253.5" y1="881" x2="1253.5" y2="883.5" stroke="#333" stroke-width="1.4"/>
<line x1="1264.5" y1="881" x2="1264.5" y2="883.5" stroke="#333" stroke-width="1.4"/>
<line x1="1275.5" y1="881" x2="1275.5" y2="886" stroke="#333" stroke-width="1.4"/>
<text x="946.1" y="906.2" text-anchor="middle" font-size="20.5" font-weight="bold" font-family='"Liberation Serif", "Times New Roman", serif'>0</text>
<text x="1001.0" y="906.2" text-anchor="middle" font-size="20.5" font-weight="bold" font-family='"Liberation Serif", "Times New Roman", serif'>1</text>
<text x="1055.9" y="906.2" text-anchor="middle" font-size="20.5" font-weight="bold" font-family='"Liberation Serif", "Times New Roman", serif'>2</text>
<text x="1110.8" y="906.2" text-anchor="middle" font-size="20.5" font-weight="bold" font-family='"Liberation Serif", "Times New Roman", serif'>3</text>
<text x="1165.7" y="906.2" text-anchor="middle" font-size="20.5" font-weight="bold" font-family='"Liberation Serif", "Times New Roman", serif'>4</text>
<text x="1220.6" y="906.2" text-anchor="middle" font-size="20.5" font-weight="bold" font-family='"Liberation Serif", "Times New Roman", serif'>5</text>
<text x="1275.5" y="906.2" text-anchor="middle" font-size="20.5" font-weight="bold" font-family='"Liberation Serif", "Times New Roman", serif'>6</text>
<text x="947.3" y="670.1" font-size="28.3" textLength="212.4" lengthAdjust="spacingAndGlyphs" font-family='"Liberation Serif", "Times New Roman", serif'>Nationwide: 5.3147</text>
<text x="947.3" y="732.9" font-size="28.3" textLength="259.4" lengthAdjust="spacingAndGlyphs" font-family='"Liberation Serif", "Times New Roman", serif'>Western Region: 5.7902</text>
<text x="947.3" y="795.8" font-size="28.3" textLength="249.8" lengthAdjust="spacingAndGlyphs" font-family='"Liberation Serif", "Times New Roman", serif'>Central Region: 4.0574</text>
<text x="947.3" y="858.6" font-size="28.3" textLength="251.6" lengthAdjust="spacingAndGlyphs" font-family='"Liberation Serif", "Times New Roman", serif'>Eastern Region: 5.8727</text>
<text x="1109.3" y="348.8" font-size="24.6" font-weight="bold" font-family='"Liberation Serif", "Times New Roman", serif'>Xinjiang</text>
<text x="1291.8" y="382.9" font-size="24.6" font-weight="bold" font-family='"Liberation Serif", "Times New Roman", serif'>Gansu</text>
<text x="1368.9" y="360.2" font-size="24.6" font-weight="bold" font-family='"Liberation Serif", "Times New Roman", serif'>Inner Mongolia</text>
<text x="1264.8" y="475.5" font-size="24.6" font-weight="bold" font-family='"Liberation Serif", "Times New Roman", serif'>Qinghai</text>
<text x="1169.3" y="546.8" font-size="24.6" font-weight="bold" font-family='"Liberation Serif", "Times New Roman", serif'>Xizang</text>
<text x="1668.7" y="214.9" font-size="24.6" font-weight="bold" font-family='"Liberation Serif", "Times New Roman", serif'>Heilongjiang</text>
<text x="1694.5" y="312.4" font-size="24.6" font-weight="bold" font-family='"Liberation Serif", "Times New Roman", serif'>Jilin</text>
<text x="1619.5" y="350.6" font-size="24.6" font-weight="bold" font-family='"Liberation Serif", "Times New Roman", serif'>Liaoning</text>
<text x="1545.2" y="369.4" font-size="24.6" font-weight="bold" font-family='"Liberation Serif", "Times New Roman", serif'>Beijing</text>
<text x="1572.6" y="400.2" font-size="24.6" font-weight="bold" font-family='"Liberation Serif", "Times New Roman", serif'>Tianjin</text>
<text x="1545.7" y="422.6" font-size="24.6" font-weight="bold" font-family='"Liberation Serif", "Times New Roman", serif'>Hebei</text>
<text x="1422.8" y="417.6" font-size="24.6" font-weight="bold" font-family='"Liberation Serif", "Times New Roman", serif'>Ningxia</text>
<text x="1499.7" y="450.8" font-size="24.6" font-weight="bold" font-family='"Liberation Serif", "Times New Roman", serif'>Shanxi</text>
<text x="1596.7" y="450.7" font-size="24.6" font-weight="bold" font-family='"Liberation Serif", "Times New Roman", serif'>Shandong</text>
<text x="1430.3" y="492.7" font-size="24.6" font-weight="bold" font-family='"Liberation Serif", "Times New Roman", serif'>Shaanxi</text>
<text x="1519.7" y="509.3" font-size="24.6" font-weight="bold" font-family='"Liberation Serif", "Times New Roman", serif'>Henan</text>
<text x="1609.7" y="507.7" font-size="24.6" font-weight="bold" font-family='"Liberation Serif", "Times New Roman", serif'>Jiangsu</text>
<text x="1559.0" y="543.2" font-size="24.6" font-weight="bold" font-family='"Liberation Serif", "Times New Roman", serif'>Anhui</text>
<text x="1636.6" y="554.0" font-size="24.6" font-weight="bold" font-family='"Liberation Serif", "Times New Roman", serif'>Shanghai</text>
<text x="1354.2" y="552.0" font-size="24.6" font-weight="bold" font-family='"Liberation Serif", "Times New Roman", serif'>Sichuan</text>
<text x="1493.1" y="560.6" font-size="24.6" font-weight="bold" font-family='"Liberation Serif", "Times New Roman", serif'>Hubei</text>
<text x="1404.7" y="580.6" font-size="24.6" font-weight="bold" font-family='"Liberation Serif", "Times New Roman", serif'>Chongqing</text>
<text x="1610.7" y="596.8" font-size="24.6" font-weight="bold" font-family='"Liberation Serif", "Times New Roman", serif'>Zhejiang</text>
<text x="1484.4" y="606.8" font-size="24.6" font-weight="bold" font-family='"Liberation Serif", "Times New Roman", serif'>Hunan</text>
<text x="1407.7" y="639.0" font-size="24.6" font-weight="bold" font-family='"Liberation Serif", "Times New Roman", serif'>Guizhou</text>
<text x="1547.1" y="636.0" font-size="24.6" font-weight="bold" font-family='"Liberation Serif", "Times New Roman", serif'>Jiangxi</text>
<text x="1569.7" y="664.9" font-size="24.6" font-weight="bold" font-family='"Liberation Serif", "Times New Roman", serif'>Fujian</text>
<text x="1342.7" y="680.3" font-size="24.6" font-weight="bold" font-family='"Liberation Serif", "Times New Roman", serif'>Yunnan</text>
<text x="1436.6" y="697.5" font-size="24.6" font-weight="bold" font-family='"Liberation Serif", "Times New Roman", serif'>Guangxi</text>
<text x="1672.1" y="688.2" font-size="24.6" font-weight="bold" font-family='"Liberation Serif", "Times New Roman", serif'>Taiwan</text>
<text x="1509.3" y="714.4" font-size="24.6" font-weight="bold" font-family='"Liberation Serif", "Times New Roman", serif'>Guangdong</text>
<text x="1581.2" y="741.0" font-size="24.6" font-weight="bold" font-family='"Liberation Serif", "Times New Roman", serif'>Hongkong</text>
<text x="1530.7" y="756.4" font-size="24.6" font-weight="bold" font-family='"Liberation Serif", "Times New Roman", serif'>Macao</text>
<text x="1449.5" y="789.1" font-size="24.6" font-weight="bold" font-family='"Liberation Serif", "Times New Roman", serif'>Hainan</text>
<text x="1415.3" y="874.0" font-size="24.6" font-weight="bold" textLength="258.6" lengthAdjust="spacingAndGlyphs" font-family='"Liberation Serif", "Times New Roman", serif'>South China Sea Islands</text>
</g>
<g id="colorbar">
<rect x="1909.2" y="492.8" width="13.0" height="34" fill="#fff"/>
<rect x="1909.2" y="458.8" width="13.0" height="34.3" fill="#800000"/>
<rect x="1909.2" y="424.8" width="13.0" height="34.3" fill="#CC0000"/>
<rect x="1909.2" y="390.8" width="13.0" height="34.3" fill="#FF7373"/>
<rect x="1909.2" y="356.8" width="13.0" height="34.3" fill="#FF9999"/>
<rect x="1909.2" y="322.8" width="13.0" height="34.3" fill="#FFBFBF"/>
<rect x="1909.2" y="288.8" width="13.0" height="34.3" fill="#FCD9BD"/>
<rect x="1909.2" y="254.8" width="13.0" height="34.3" fill="#F9F5C0"/>
<rect x="1909.2" y="220.8" width="13.0" height="34.3" fill="#F5EE9E"/>
<rect x="1909.2" y="186.8" width="13.0" height="34.3" fill="#F0E66E"/>
<rect x="1909.2" y="152.8" width="13.0" height="34.3" fill="#B3E0FF"/>
<rect x="1909.2" y="118.8" width="13.0" height="34.3" fill="#80CCFF"/>
<rect x="1909.2" y="84.8" width="13.0" height="34.3" fill="#4DB8FF"/>
<rect x="1909.2" y="50.8" width="13.0" height="34.3" fill="#0868AC"/>
<rect x="1909.2" y="16.6" width="13.0" height="34.5" fill="#05456F"/>
<rect x="1909.2" y="16.6" width="13.0" height="510.2" fill="none" stroke="#000" stroke-width="1.7"/>
<line x1="1922.2" y1="492.8" x2="1935.8" y2="492.8" stroke="#000" stroke-width="1.3"/>
<text x="1941.6" y="499.5" font-size="20" font-family='"Liberation Serif", "Times New Roman", serif'>0.0</text>
<line x1="1922.2" y1="458.8" x2="1935.8" y2="458.8" stroke="#000" stroke-width="1.3"/>
<text x="1941.6" y="465.5" font-size="20" font-family='"Liberation Serif", "Times New Roman", serif'>1.0</text>
<line x1="1922.2" y1="424.8" x2="1935.8" y2="424.8" stroke="#000" stroke-width="1.3"/>
<text x="1941.6" y="431.5" font-size="20" font-family='"Liberation Serif", "Times New Roman", serif'>2.0</text>
<line x1="1922.2" y1="390.8" x2="1935.8" y2="390.8" stroke="#000" stroke-width="1.3"/>
<text x="1941.6" y="397.5" font-size="20" font-family='"Liberation Serif", "Times New Roman", serif'>3.0</text>
<line x1="1922.2" y1="356.8" x2="1935.8" y2="356.8" stroke="#000" stroke-width="1.3"/>
<text x="1941.6" y="363.5" font-size="20" font-family='"Liberation Serif", "Times New Roman", serif'>4.0</text>
<line x1="1922.2" y1="322.8" x2="1935.8" y2="322.8" stroke="#000" stroke-width="1.3"/>
<text x="1941.6" y="329.5" font-size="20" font-family='"Liberation Serif", "Times New Roman", serif'>5.0</text>
<line x1="1922.2" y1="288.8" x2="1935.8" y2="288.8" stroke="#000" stroke-width="1.3"/>
<text x="1941.6" y="295.5" font-size="20" font-family='"Liberation Serif", "Times New Roman", serif'>6.0</text>
<line x1="1922.2" y1="254.8" x2="1935.8" y2="254.8" stroke="#000" stroke-width="1.3"/>
<text x="1941.6" y="261.5" font-size="20" font-family='"Liberation Serif", "Times New Roman", serif'>7.0</text>
<line x1="1922.2" y1="220.8" x2="1935.8" y2="220.8" stroke="#000" stroke-width="1.3"/>
<text x="1941.6" y="227.5" font-size="20" font-family='"Liberation Serif", "Times New Roman", serif'>8.0</text>
<line x1="1922.2" y1="186.8" x2="1935.8" y2="186.8" stroke="#000" stroke-width="1.3"/>
<text x="1941.6" y="193.5" font-size="20" font-family='"Liberation Serif", "Times New Roman", serif'>9.0</text>
<line x1="1922.2" y1="152.8" x2="1935.8" y2="152.8" stroke="#000" stroke-width="1.3"/>
<text x="1941.6" y="159.5" font-size="20" font-family='"Liberation Serif", "Times New Roman", serif'>10.0</text>
<line x1="1922.2" y1="118.8" x2="1935.8" y2="118.8" stroke="#000" stroke-width="1.3"/>
<text x="1941.6" y="125.5" font-size="20" font-family='"Liberation Serif", "Times New Roman", serif'>11.0</text>
<line x1="1922.2" y1="84.8" x2="1935.8" y2="84.8" stroke="#000" stroke-width="1.3"/>
<text x="1941.6" y="91.5" font-size="20" font-family='"Liberation Serif", "Times New Roman", serif'>12.0</text>
<line x1="1922.2" y1="50.8" x2="1935.8" y2="50.8" stroke="#000" stroke-width="1.3"/>
<text x="1941.6" y="57.5" font-size="20" font-family='"Liberation Serif", "Times New Roman", serif'>13.0</text>
<text x="1924.0" y="541.6" font-size="20.5" font-style="italic" font-family='"Liberation Serif", "Times New Roman", serif'>No Data</text>
</g>
</svg>
</body>
</html>
